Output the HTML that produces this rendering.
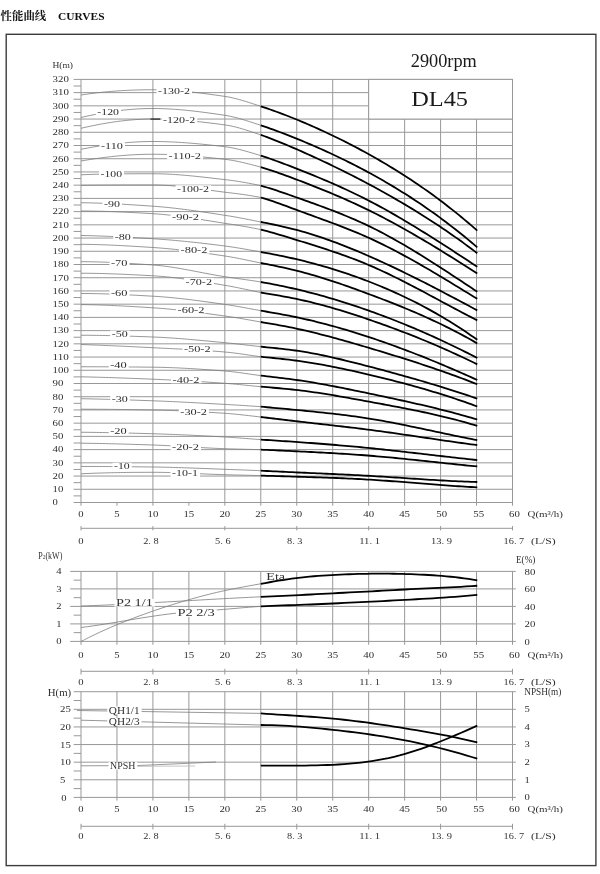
<!DOCTYPE html>
<html lang="zh">
<head>
<meta charset="utf-8">
<title>性能曲线 CURVES - DL45 2900rpm</title>
<style>
html,body{margin:0;padding:0;background:#fff;}
body{width:600px;height:874px;overflow:hidden;font-family:"Liberation Serif", "Noto Serif CJK SC", serif;}
svg text{white-space:pre;}
svg{filter:blur(0.35px);}
</style>
</head>
<body>
<svg width="600" height="874" viewBox="0 0 600 874" font-family='"Liberation Serif", "Noto Serif CJK SC", serif' style="display:block">
<rect x="0" y="0" width="600" height="874" fill="#ffffff"/>
<text x="0.6" y="20" font-size="11.3" font-weight="bold" fill="#111" font-family='"Liberation Serif", "Noto Serif CJK SC", serif' textLength="45.6" lengthAdjust="spacingAndGlyphs">性能曲线</text>
<text x="58" y="19.7" font-size="11.3" font-weight="bold" fill="#111" textLength="46.6" lengthAdjust="spacingAndGlyphs">CURVES</text>
<rect x="6.2" y="34.3" width="589.7" height="831.3" fill="none" stroke="#3c3c3c" stroke-width="1.4"/>
<line x1="73.60" y1="502.50" x2="512.50" y2="502.50" stroke="#989898" stroke-width="1.0"/>
<line x1="73.60" y1="489.28" x2="512.50" y2="489.28" stroke="#989898" stroke-width="1.0"/>
<line x1="73.60" y1="476.06" x2="512.50" y2="476.06" stroke="#989898" stroke-width="1.0"/>
<line x1="73.60" y1="462.83" x2="512.50" y2="462.83" stroke="#989898" stroke-width="1.0"/>
<line x1="73.60" y1="449.61" x2="512.50" y2="449.61" stroke="#989898" stroke-width="1.0"/>
<line x1="73.60" y1="436.39" x2="512.50" y2="436.39" stroke="#989898" stroke-width="1.0"/>
<line x1="73.60" y1="423.17" x2="512.50" y2="423.17" stroke="#989898" stroke-width="1.0"/>
<line x1="73.60" y1="409.95" x2="512.50" y2="409.95" stroke="#989898" stroke-width="1.0"/>
<line x1="73.60" y1="396.72" x2="512.50" y2="396.72" stroke="#989898" stroke-width="1.0"/>
<line x1="73.60" y1="383.50" x2="512.50" y2="383.50" stroke="#989898" stroke-width="1.0"/>
<line x1="73.60" y1="370.28" x2="512.50" y2="370.28" stroke="#989898" stroke-width="1.0"/>
<line x1="73.60" y1="357.06" x2="512.50" y2="357.06" stroke="#989898" stroke-width="1.0"/>
<line x1="73.60" y1="343.84" x2="512.50" y2="343.84" stroke="#989898" stroke-width="1.0"/>
<line x1="73.60" y1="330.61" x2="512.50" y2="330.61" stroke="#989898" stroke-width="1.0"/>
<line x1="73.60" y1="317.39" x2="512.50" y2="317.39" stroke="#989898" stroke-width="1.0"/>
<line x1="73.60" y1="304.17" x2="512.50" y2="304.17" stroke="#989898" stroke-width="1.0"/>
<line x1="73.60" y1="290.95" x2="512.50" y2="290.95" stroke="#989898" stroke-width="1.0"/>
<line x1="73.60" y1="277.73" x2="512.50" y2="277.73" stroke="#989898" stroke-width="1.0"/>
<line x1="73.60" y1="264.50" x2="512.50" y2="264.50" stroke="#989898" stroke-width="1.0"/>
<line x1="73.60" y1="251.28" x2="512.50" y2="251.28" stroke="#989898" stroke-width="1.0"/>
<line x1="73.60" y1="238.06" x2="512.50" y2="238.06" stroke="#989898" stroke-width="1.0"/>
<line x1="73.60" y1="224.84" x2="512.50" y2="224.84" stroke="#989898" stroke-width="1.0"/>
<line x1="73.60" y1="211.62" x2="512.50" y2="211.62" stroke="#989898" stroke-width="1.0"/>
<line x1="73.60" y1="198.39" x2="512.50" y2="198.39" stroke="#989898" stroke-width="1.0"/>
<line x1="73.60" y1="185.17" x2="512.50" y2="185.17" stroke="#989898" stroke-width="1.0"/>
<line x1="73.60" y1="171.95" x2="512.50" y2="171.95" stroke="#989898" stroke-width="1.0"/>
<line x1="73.60" y1="158.73" x2="512.50" y2="158.73" stroke="#989898" stroke-width="1.0"/>
<line x1="73.60" y1="145.51" x2="512.50" y2="145.51" stroke="#989898" stroke-width="1.0"/>
<line x1="73.60" y1="132.28" x2="512.50" y2="132.28" stroke="#989898" stroke-width="1.0"/>
<line x1="73.60" y1="119.06" x2="512.50" y2="119.06" stroke="#989898" stroke-width="1.0"/>
<line x1="73.60" y1="105.84" x2="368.67" y2="105.84" stroke="#989898" stroke-width="1.0"/>
<line x1="73.60" y1="92.62" x2="368.67" y2="92.62" stroke="#989898" stroke-width="1.0"/>
<line x1="73.60" y1="79.40" x2="512.50" y2="79.40" stroke="#989898" stroke-width="1.0"/>
<line x1="73.60" y1="495.89" x2="81.00" y2="495.89" stroke="#989898" stroke-width="1.0"/>
<line x1="73.60" y1="482.67" x2="81.00" y2="482.67" stroke="#989898" stroke-width="1.0"/>
<line x1="73.60" y1="469.44" x2="81.00" y2="469.44" stroke="#989898" stroke-width="1.0"/>
<line x1="73.60" y1="456.22" x2="81.00" y2="456.22" stroke="#989898" stroke-width="1.0"/>
<line x1="73.60" y1="443.00" x2="81.00" y2="443.00" stroke="#989898" stroke-width="1.0"/>
<line x1="73.60" y1="429.78" x2="81.00" y2="429.78" stroke="#989898" stroke-width="1.0"/>
<line x1="73.60" y1="416.56" x2="81.00" y2="416.56" stroke="#989898" stroke-width="1.0"/>
<line x1="73.60" y1="403.33" x2="81.00" y2="403.33" stroke="#989898" stroke-width="1.0"/>
<line x1="73.60" y1="390.11" x2="81.00" y2="390.11" stroke="#989898" stroke-width="1.0"/>
<line x1="73.60" y1="376.89" x2="81.00" y2="376.89" stroke="#989898" stroke-width="1.0"/>
<line x1="73.60" y1="363.67" x2="81.00" y2="363.67" stroke="#989898" stroke-width="1.0"/>
<line x1="73.60" y1="350.45" x2="81.00" y2="350.45" stroke="#989898" stroke-width="1.0"/>
<line x1="73.60" y1="337.23" x2="81.00" y2="337.23" stroke="#989898" stroke-width="1.0"/>
<line x1="73.60" y1="324.00" x2="81.00" y2="324.00" stroke="#989898" stroke-width="1.0"/>
<line x1="73.60" y1="310.78" x2="81.00" y2="310.78" stroke="#989898" stroke-width="1.0"/>
<line x1="73.60" y1="297.56" x2="81.00" y2="297.56" stroke="#989898" stroke-width="1.0"/>
<line x1="73.60" y1="284.34" x2="81.00" y2="284.34" stroke="#989898" stroke-width="1.0"/>
<line x1="73.60" y1="271.12" x2="81.00" y2="271.12" stroke="#989898" stroke-width="1.0"/>
<line x1="73.60" y1="257.89" x2="81.00" y2="257.89" stroke="#989898" stroke-width="1.0"/>
<line x1="73.60" y1="244.67" x2="81.00" y2="244.67" stroke="#989898" stroke-width="1.0"/>
<line x1="73.60" y1="231.45" x2="81.00" y2="231.45" stroke="#989898" stroke-width="1.0"/>
<line x1="73.60" y1="218.23" x2="81.00" y2="218.23" stroke="#989898" stroke-width="1.0"/>
<line x1="73.60" y1="205.00" x2="81.00" y2="205.00" stroke="#989898" stroke-width="1.0"/>
<line x1="73.60" y1="191.78" x2="81.00" y2="191.78" stroke="#989898" stroke-width="1.0"/>
<line x1="73.60" y1="178.56" x2="81.00" y2="178.56" stroke="#989898" stroke-width="1.0"/>
<line x1="73.60" y1="165.34" x2="81.00" y2="165.34" stroke="#989898" stroke-width="1.0"/>
<line x1="73.60" y1="152.12" x2="81.00" y2="152.12" stroke="#989898" stroke-width="1.0"/>
<line x1="73.60" y1="138.89" x2="81.00" y2="138.89" stroke="#989898" stroke-width="1.0"/>
<line x1="73.60" y1="125.67" x2="81.00" y2="125.67" stroke="#989898" stroke-width="1.0"/>
<line x1="73.60" y1="112.45" x2="81.00" y2="112.45" stroke="#989898" stroke-width="1.0"/>
<line x1="73.60" y1="99.23" x2="81.00" y2="99.23" stroke="#989898" stroke-width="1.0"/>
<line x1="73.60" y1="86.01" x2="81.00" y2="86.01" stroke="#989898" stroke-width="1.0"/>
<line x1="81.00" y1="79.40" x2="81.00" y2="505.70" stroke="#989898" stroke-width="1.0"/>
<line x1="152.92" y1="79.40" x2="152.92" y2="505.70" stroke="#989898" stroke-width="1.0"/>
<line x1="224.83" y1="79.40" x2="224.83" y2="505.70" stroke="#989898" stroke-width="1.0"/>
<line x1="260.79" y1="79.40" x2="260.79" y2="505.70" stroke="#989898" stroke-width="1.0"/>
<line x1="296.75" y1="79.40" x2="296.75" y2="505.70" stroke="#989898" stroke-width="1.0"/>
<line x1="332.71" y1="79.40" x2="332.71" y2="505.70" stroke="#989898" stroke-width="1.0"/>
<line x1="368.67" y1="79.40" x2="368.67" y2="505.70" stroke="#989898" stroke-width="1.0"/>
<line x1="512.50" y1="79.40" x2="512.50" y2="505.70" stroke="#989898" stroke-width="1.0"/>
<line x1="404.63" y1="119.06" x2="404.63" y2="505.70" stroke="#989898" stroke-width="1.0"/>
<line x1="440.58" y1="119.06" x2="440.58" y2="505.70" stroke="#989898" stroke-width="1.0"/>
<line x1="476.54" y1="119.06" x2="476.54" y2="505.70" stroke="#989898" stroke-width="1.0"/>
<line x1="116.96" y1="502.50" x2="116.96" y2="505.70" stroke="#989898" stroke-width="1.0"/>
<line x1="188.88" y1="502.50" x2="188.88" y2="505.70" stroke="#989898" stroke-width="1.0"/>
<g>
<text x="52.60" y="505.34" font-size="8.9" text-anchor="start" fill="#2c2c2c" textLength="5.30" lengthAdjust="spacingAndGlyphs">0</text>
<text x="52.60" y="492.12" font-size="8.9" text-anchor="start" fill="#2c2c2c" textLength="10.80" lengthAdjust="spacingAndGlyphs">10</text>
<text x="52.60" y="478.89" font-size="8.9" text-anchor="start" fill="#2c2c2c" textLength="10.80" lengthAdjust="spacingAndGlyphs">20</text>
<text x="52.60" y="465.67" font-size="8.9" text-anchor="start" fill="#2c2c2c" textLength="10.80" lengthAdjust="spacingAndGlyphs">30</text>
<text x="52.60" y="452.45" font-size="8.9" text-anchor="start" fill="#2c2c2c" textLength="10.80" lengthAdjust="spacingAndGlyphs">40</text>
<text x="52.60" y="439.23" font-size="8.9" text-anchor="start" fill="#2c2c2c" textLength="10.80" lengthAdjust="spacingAndGlyphs">50</text>
<text x="52.60" y="426.00" font-size="8.9" text-anchor="start" fill="#2c2c2c" textLength="10.80" lengthAdjust="spacingAndGlyphs">60</text>
<text x="52.60" y="412.78" font-size="8.9" text-anchor="start" fill="#2c2c2c" textLength="10.80" lengthAdjust="spacingAndGlyphs">70</text>
<text x="52.60" y="399.56" font-size="8.9" text-anchor="start" fill="#2c2c2c" textLength="10.80" lengthAdjust="spacingAndGlyphs">80</text>
<text x="52.60" y="386.34" font-size="8.9" text-anchor="start" fill="#2c2c2c" textLength="10.80" lengthAdjust="spacingAndGlyphs">90</text>
<text x="52.60" y="373.12" font-size="8.9" text-anchor="start" fill="#2c2c2c" textLength="16.30" lengthAdjust="spacingAndGlyphs">100</text>
<text x="52.60" y="359.89" font-size="8.9" text-anchor="start" fill="#2c2c2c" textLength="16.30" lengthAdjust="spacingAndGlyphs">110</text>
<text x="52.60" y="346.67" font-size="8.9" text-anchor="start" fill="#2c2c2c" textLength="16.30" lengthAdjust="spacingAndGlyphs">120</text>
<text x="52.60" y="333.45" font-size="8.9" text-anchor="start" fill="#2c2c2c" textLength="16.30" lengthAdjust="spacingAndGlyphs">130</text>
<text x="52.60" y="320.23" font-size="8.9" text-anchor="start" fill="#2c2c2c" textLength="16.30" lengthAdjust="spacingAndGlyphs">140</text>
<text x="52.60" y="307.01" font-size="8.9" text-anchor="start" fill="#2c2c2c" textLength="16.30" lengthAdjust="spacingAndGlyphs">150</text>
<text x="52.60" y="293.78" font-size="8.9" text-anchor="start" fill="#2c2c2c" textLength="16.30" lengthAdjust="spacingAndGlyphs">160</text>
<text x="52.60" y="280.56" font-size="8.9" text-anchor="start" fill="#2c2c2c" textLength="16.30" lengthAdjust="spacingAndGlyphs">170</text>
<text x="52.60" y="267.34" font-size="8.9" text-anchor="start" fill="#2c2c2c" textLength="16.30" lengthAdjust="spacingAndGlyphs">180</text>
<text x="52.60" y="254.12" font-size="8.9" text-anchor="start" fill="#2c2c2c" textLength="16.30" lengthAdjust="spacingAndGlyphs">190</text>
<text x="52.60" y="240.90" font-size="8.9" text-anchor="start" fill="#2c2c2c" textLength="16.30" lengthAdjust="spacingAndGlyphs">200</text>
<text x="52.60" y="227.67" font-size="8.9" text-anchor="start" fill="#2c2c2c" textLength="16.30" lengthAdjust="spacingAndGlyphs">210</text>
<text x="52.60" y="214.45" font-size="8.9" text-anchor="start" fill="#2c2c2c" textLength="16.30" lengthAdjust="spacingAndGlyphs">220</text>
<text x="52.60" y="201.23" font-size="8.9" text-anchor="start" fill="#2c2c2c" textLength="16.30" lengthAdjust="spacingAndGlyphs">230</text>
<text x="52.60" y="188.01" font-size="8.9" text-anchor="start" fill="#2c2c2c" textLength="16.30" lengthAdjust="spacingAndGlyphs">240</text>
<text x="52.60" y="174.79" font-size="8.9" text-anchor="start" fill="#2c2c2c" textLength="16.30" lengthAdjust="spacingAndGlyphs">250</text>
<text x="52.60" y="161.57" font-size="8.9" text-anchor="start" fill="#2c2c2c" textLength="16.30" lengthAdjust="spacingAndGlyphs">260</text>
<text x="52.60" y="148.34" font-size="8.9" text-anchor="start" fill="#2c2c2c" textLength="16.30" lengthAdjust="spacingAndGlyphs">270</text>
<text x="52.60" y="135.12" font-size="8.9" text-anchor="start" fill="#2c2c2c" textLength="16.30" lengthAdjust="spacingAndGlyphs">280</text>
<text x="52.60" y="121.90" font-size="8.9" text-anchor="start" fill="#2c2c2c" textLength="16.30" lengthAdjust="spacingAndGlyphs">290</text>
<text x="52.60" y="108.68" font-size="8.9" text-anchor="start" fill="#2c2c2c" textLength="16.30" lengthAdjust="spacingAndGlyphs">300</text>
<text x="52.60" y="95.45" font-size="8.9" text-anchor="start" fill="#2c2c2c" textLength="16.30" lengthAdjust="spacingAndGlyphs">310</text>
<text x="52.60" y="82.23" font-size="8.9" text-anchor="start" fill="#2c2c2c" textLength="16.30" lengthAdjust="spacingAndGlyphs">320</text>
</g>
<text x="52.40" y="68.47" font-size="9.0" text-anchor="start" fill="#303030" textLength="20.60" lengthAdjust="spacingAndGlyphs">H(m)</text>
<g>
<text x="81.00" y="517.44" font-size="8.9" text-anchor="middle" fill="#2c2c2c" textLength="5.30" lengthAdjust="spacingAndGlyphs">0</text>
<text x="116.96" y="517.44" font-size="8.9" text-anchor="middle" fill="#2c2c2c" textLength="5.30" lengthAdjust="spacingAndGlyphs">5</text>
<text x="152.92" y="517.44" font-size="8.9" text-anchor="middle" fill="#2c2c2c" textLength="10.80" lengthAdjust="spacingAndGlyphs">10</text>
<text x="188.88" y="517.44" font-size="8.9" text-anchor="middle" fill="#2c2c2c" textLength="10.80" lengthAdjust="spacingAndGlyphs">15</text>
<text x="224.83" y="517.44" font-size="8.9" text-anchor="middle" fill="#2c2c2c" textLength="10.80" lengthAdjust="spacingAndGlyphs">20</text>
<text x="260.79" y="517.44" font-size="8.9" text-anchor="middle" fill="#2c2c2c" textLength="10.80" lengthAdjust="spacingAndGlyphs">25</text>
<text x="296.75" y="517.44" font-size="8.9" text-anchor="middle" fill="#2c2c2c" textLength="10.80" lengthAdjust="spacingAndGlyphs">30</text>
<text x="332.71" y="517.44" font-size="8.9" text-anchor="middle" fill="#2c2c2c" textLength="10.80" lengthAdjust="spacingAndGlyphs">35</text>
<text x="368.67" y="517.44" font-size="8.9" text-anchor="middle" fill="#2c2c2c" textLength="10.80" lengthAdjust="spacingAndGlyphs">40</text>
<text x="404.63" y="517.44" font-size="8.9" text-anchor="middle" fill="#2c2c2c" textLength="10.80" lengthAdjust="spacingAndGlyphs">45</text>
<text x="441.69" y="517.44" font-size="8.9" text-anchor="middle" fill="#2c2c2c" textLength="10.80" lengthAdjust="spacingAndGlyphs">50</text>
<text x="478.74" y="517.44" font-size="8.9" text-anchor="middle" fill="#2c2c2c" textLength="10.80" lengthAdjust="spacingAndGlyphs">55</text>
<text x="514.50" y="517.44" font-size="8.9" text-anchor="middle" fill="#2c2c2c" textLength="10.80" lengthAdjust="spacingAndGlyphs">60</text>
</g>
<text x="527.50" y="517.47" font-size="9.0" text-anchor="start" fill="#303030" textLength="35.50" lengthAdjust="spacingAndGlyphs">Q(m³/h)</text>
<line x1="81.00" y1="528.30" x2="512.50" y2="528.30" stroke="#989898" stroke-width="1.0"/>
<line x1="81.00" y1="526.10" x2="81.00" y2="530.40" stroke="#989898" stroke-width="1.0"/>
<text x="81.00" y="544.14" font-size="8.9" text-anchor="middle" fill="#2c2c2c" textLength="5.30" lengthAdjust="spacingAndGlyphs">0</text>
<line x1="152.92" y1="526.10" x2="152.92" y2="530.40" stroke="#989898" stroke-width="1.0"/>
<text x="150.92" y="544.14" font-size="8.9" text-anchor="middle" fill="#303030" textLength="15.50" lengthAdjust="spacingAndGlyphs">2. 8</text>
<line x1="224.83" y1="526.10" x2="224.83" y2="530.40" stroke="#989898" stroke-width="1.0"/>
<text x="222.83" y="544.14" font-size="8.9" text-anchor="middle" fill="#303030" textLength="15.50" lengthAdjust="spacingAndGlyphs">5. 6</text>
<line x1="296.75" y1="526.10" x2="296.75" y2="530.40" stroke="#989898" stroke-width="1.0"/>
<text x="294.75" y="544.14" font-size="8.9" text-anchor="middle" fill="#303030" textLength="15.50" lengthAdjust="spacingAndGlyphs">8. 3</text>
<line x1="368.67" y1="526.10" x2="368.67" y2="530.40" stroke="#989898" stroke-width="1.0"/>
<text x="369.67" y="544.14" font-size="8.9" text-anchor="middle" fill="#303030" textLength="21.00" lengthAdjust="spacingAndGlyphs">11. 1</text>
<line x1="440.58" y1="526.10" x2="440.58" y2="530.40" stroke="#989898" stroke-width="1.0"/>
<text x="441.58" y="544.14" font-size="8.9" text-anchor="middle" fill="#303030" textLength="21.00" lengthAdjust="spacingAndGlyphs">13. 9</text>
<line x1="512.50" y1="526.10" x2="512.50" y2="530.40" stroke="#989898" stroke-width="1.0"/>
<text x="503.60" y="544.14" font-size="8.9" text-anchor="start" fill="#303030" textLength="20.60" lengthAdjust="spacingAndGlyphs">16. 7</text>
<text x="531.00" y="544.17" font-size="9.0" text-anchor="start" fill="#303030" textLength="24.60" lengthAdjust="spacingAndGlyphs">(L/S)</text>
<g id="curves">
<polyline points="81.00,95.00 84.05,94.54 87.09,94.10 90.14,93.68 93.19,93.29 96.24,92.92 99.28,92.57 102.33,92.24 105.38,91.94 108.43,91.66 111.47,91.39 114.52,91.15 117.57,90.93 120.62,90.73 123.66,90.55 126.71,90.39 129.76,90.25 132.80,90.12 135.85,90.02 138.90,89.93 141.95,89.86 144.99,89.81 148.04,89.77 151.09,89.75 154.14,89.75 157.18,89.78 160.23,89.84 163.28,89.94 166.33,90.06 169.37,90.21 172.42,90.39 175.47,90.59 178.51,90.82 181.56,91.07 184.61,91.34 187.66,91.63 190.70,91.95 193.75,92.28 196.80,92.63 199.85,92.99 202.89,93.37 205.94,93.76 208.99,94.16 212.04,94.58 215.08,95.00 218.13,95.43 221.18,95.87 224.22,96.31 227.27,96.79 230.32,97.37 233.37,98.05 236.41,98.80 239.46,99.62 242.51,100.50 245.56,101.42 248.60,102.38 251.65,103.35 254.70,104.34 257.75,105.33 260.79,106.30" fill="none" stroke="#7c7c7c" stroke-width="0.8" stroke-linejoin="round"/>
<polyline points="260.79,106.30 263.93,107.34 267.07,108.40 270.20,109.49 273.34,110.60 276.48,111.74 279.62,112.89 282.75,114.08 285.89,115.28 289.03,116.50 292.16,117.75 295.30,119.01 298.44,120.29 301.58,121.60 304.71,122.92 307.85,124.26 310.99,125.62 314.13,127.00 317.26,128.40 320.40,129.82 323.54,131.26 326.67,132.72 329.81,134.20 332.95,135.70 336.09,137.22 339.22,138.75 342.36,140.31 345.50,141.89 348.64,143.49 351.77,145.12 354.91,146.76 358.05,148.42 361.18,150.10 364.32,151.81 367.46,153.53 370.60,155.28 373.73,157.04 376.87,158.83 380.01,160.64 383.15,162.48 386.28,164.33 389.42,166.21 392.56,168.12 395.69,170.05 398.83,172.01 401.97,173.99 405.11,176.00 408.24,178.03 411.38,180.09 414.52,182.18 417.65,184.30 420.79,186.45 423.93,188.63 427.07,190.83 430.20,193.07 433.34,195.34 436.48,197.64 439.62,199.97 442.75,202.34 445.89,204.73 449.03,207.17 452.16,209.63 455.30,212.13 458.44,214.66 461.58,217.23 464.71,219.84 467.85,222.48 470.99,225.16 474.13,227.88 477.26,230.63" fill="none" stroke="#000" stroke-width="1.8" stroke-linejoin="round" stroke-linecap="butt"/>
<polyline points="81.00,117.50 84.05,116.80 87.09,116.12 90.14,115.46 93.19,114.84 96.24,114.24 99.28,113.66 102.33,113.11 105.38,112.60 108.43,112.11 111.47,111.64 114.52,111.21 117.57,110.81 120.62,110.44 123.66,110.10 126.71,109.79 129.76,109.51 132.80,109.27 135.85,109.05 138.90,108.88 141.95,108.73 144.99,108.62 148.04,108.55 151.09,108.51 154.14,108.50 157.18,108.53 160.23,108.60 163.28,108.69 166.33,108.82 169.37,108.97 172.42,109.15 175.47,109.36 178.51,109.60 181.56,109.85 184.61,110.13 187.66,110.43 190.70,110.75 193.75,111.09 196.80,111.45 199.85,111.82 202.89,112.21 205.94,112.61 208.99,113.02 212.04,113.44 215.08,113.87 218.13,114.31 221.18,114.76 224.22,115.21 227.27,115.70 230.32,116.29 233.37,116.97 236.41,117.73 239.46,118.56 242.51,119.45 245.56,120.38 248.60,121.34 251.65,122.33 254.70,123.32 257.75,124.32 260.79,125.30" fill="none" stroke="#7c7c7c" stroke-width="0.8" stroke-linejoin="round"/>
<polyline points="260.79,125.30 263.93,126.35 267.07,127.43 270.20,128.54 273.34,129.66 276.48,130.81 279.62,131.98 282.75,133.17 285.89,134.38 289.03,135.61 292.16,136.85 295.30,138.11 298.44,139.39 301.58,140.68 304.71,141.99 307.85,143.31 310.99,144.65 314.13,146.00 317.26,147.37 320.40,148.76 323.54,150.17 326.67,151.59 329.81,153.03 332.95,154.49 336.09,155.97 339.22,157.47 342.36,158.98 345.50,160.52 348.64,162.08 351.77,163.65 354.91,165.25 358.05,166.87 361.18,168.50 364.32,170.16 367.46,171.85 370.60,173.55 373.73,175.28 376.87,177.03 380.01,178.80 383.15,180.59 386.28,182.41 389.42,184.26 392.56,186.13 395.69,188.02 398.83,189.94 401.97,191.89 405.11,193.86 408.24,195.86 411.38,197.88 414.52,199.94 417.65,202.02 420.79,204.12 423.93,206.26 427.07,208.43 430.20,210.62 433.34,212.85 436.48,215.10 439.62,217.39 442.75,219.70 445.89,222.05 449.03,224.43 452.16,226.84 455.30,229.28 458.44,231.76 461.58,234.27 464.71,236.81 467.85,239.38 470.99,241.99 474.13,244.64 477.26,247.32" fill="none" stroke="#000" stroke-width="1.8" stroke-linejoin="round" stroke-linecap="butt"/>
<polyline points="81.00,128.30 84.05,127.59 87.09,126.91 90.14,126.25 93.19,125.61 96.24,125.00 99.28,124.41 102.33,123.85 105.38,123.32 108.43,122.81 111.47,122.33 114.52,121.88 117.57,121.46 120.62,121.07 123.66,120.71 126.71,120.38 129.76,120.08 132.80,119.82 135.85,119.60 138.90,119.41 141.95,119.25 144.99,119.13 148.04,119.05 151.09,119.01 154.14,119.00 157.18,119.03 160.23,119.08 163.28,119.16 166.33,119.26 169.37,119.39 172.42,119.55 175.47,119.72 178.51,119.92 181.56,120.14 184.61,120.37 187.66,120.63 190.70,120.90 193.75,121.19 196.80,121.50 199.85,121.82 202.89,122.16 205.94,122.51 208.99,122.87 212.04,123.24 215.08,123.62 218.13,124.01 221.18,124.41 224.22,124.82 227.27,125.27 230.32,125.83 233.37,126.48 236.41,127.23 239.46,128.05 242.51,128.94 245.56,129.88 248.60,130.85 251.65,131.85 254.70,132.87 257.75,133.89 260.79,134.90" fill="none" stroke="#7c7c7c" stroke-width="0.8" stroke-linejoin="round"/>
<polyline points="260.79,134.90 263.93,136.02 267.07,137.17 270.20,138.36 273.34,139.57 276.48,140.80 279.62,142.06 282.75,143.35 285.89,144.65 289.03,145.97 292.16,147.31 295.30,148.67 298.44,150.04 301.58,151.42 304.71,152.81 307.85,154.22 310.99,155.64 314.13,157.07 317.26,158.52 320.40,159.97 323.54,161.45 326.67,162.93 329.81,164.43 332.95,165.94 336.09,167.46 339.22,169.00 342.36,170.55 345.50,172.12 348.64,173.69 351.77,175.29 354.91,176.89 358.05,178.51 361.18,180.15 364.32,181.79 367.46,183.46 370.60,185.13 373.73,186.82 376.87,188.53 380.01,190.25 383.15,191.99 386.28,193.74 389.42,195.51 392.56,197.29 395.69,199.10 398.83,200.92 401.97,202.75 405.11,204.61 408.24,206.49 411.38,208.38 414.52,210.29 417.65,212.23 420.79,214.18 423.93,216.16 427.07,218.15 430.20,220.17 433.34,222.21 436.48,224.27 439.62,226.35 442.75,228.46 445.89,230.59 449.03,232.74 452.16,234.92 455.30,237.12 458.44,239.35 461.58,241.60 464.71,243.88 467.85,246.18 470.99,248.51 474.13,250.87 477.26,253.25" fill="none" stroke="#000" stroke-width="1.8" stroke-linejoin="round" stroke-linecap="butt"/>
<polyline points="81.00,149.30 84.05,148.70 87.09,148.13 90.14,147.57 93.19,147.03 96.24,146.52 99.28,146.02 102.33,145.55 105.38,145.10 108.43,144.67 111.47,144.27 114.52,143.90 117.57,143.54 120.62,143.22 123.66,142.92 126.71,142.65 129.76,142.40 132.80,142.18 135.85,142.00 138.90,141.84 141.95,141.71 144.99,141.61 148.04,141.54 151.09,141.51 154.14,141.50 157.18,141.52 160.23,141.57 163.28,141.64 166.33,141.73 169.37,141.85 172.42,141.98 175.47,142.13 178.51,142.31 181.56,142.50 184.61,142.71 187.66,142.93 190.70,143.18 193.75,143.43 196.80,143.70 199.85,143.98 202.89,144.28 205.94,144.59 208.99,144.91 212.04,145.23 215.08,145.57 218.13,145.92 221.18,146.27 224.22,146.63 227.27,147.02 230.32,147.52 233.37,148.10 236.41,148.76 239.46,149.49 242.51,150.28 245.56,151.11 248.60,151.98 251.65,152.87 254.70,153.78 257.75,154.69 260.79,155.60" fill="none" stroke="#7c7c7c" stroke-width="0.8" stroke-linejoin="round"/>
<polyline points="260.79,155.60 263.93,156.62 267.07,157.67 270.20,158.75 273.34,159.86 276.48,160.98 279.62,162.13 282.75,163.30 285.89,164.49 289.03,165.69 292.16,166.91 295.30,168.13 298.44,169.37 301.58,170.61 304.71,171.86 307.85,173.12 310.99,174.39 314.13,175.68 317.26,176.97 320.40,178.28 323.54,179.60 326.67,180.94 329.81,182.29 332.95,183.66 336.09,185.04 339.22,186.44 342.36,187.86 345.50,189.30 348.64,190.76 351.77,192.24 354.91,193.74 358.05,195.27 361.18,196.81 364.32,198.38 367.46,199.98 370.60,201.60 373.73,203.24 376.87,204.91 380.01,206.61 383.15,208.32 386.28,210.06 389.42,211.82 392.56,213.60 395.69,215.40 398.83,217.22 401.97,219.06 405.11,220.91 408.24,222.79 411.38,224.67 414.52,226.58 417.65,228.50 420.79,230.43 423.93,232.38 427.07,234.33 430.20,236.31 433.34,238.29 436.48,240.28 439.62,242.28 442.75,244.29 445.89,246.31 449.03,248.33 452.16,250.37 455.30,252.40 458.44,254.45 461.58,256.49 464.71,258.55 467.85,260.60 470.99,262.66 474.13,264.71 477.26,266.77" fill="none" stroke="#000" stroke-width="1.8" stroke-linejoin="round" stroke-linecap="butt"/>
<polyline points="81.00,161.00 84.05,160.47 87.09,159.96 90.14,159.48 93.19,159.01 96.24,158.55 99.28,158.12 102.33,157.71 105.38,157.33 108.43,156.96 111.47,156.61 114.52,156.29 117.57,155.99 120.62,155.71 123.66,155.45 126.71,155.22 129.76,155.01 132.80,154.83 135.85,154.67 138.90,154.53 141.95,154.42 144.99,154.34 148.04,154.28 151.09,154.25 154.14,154.25 157.18,154.27 160.23,154.32 163.28,154.39 166.33,154.48 169.37,154.60 172.42,154.73 175.47,154.88 178.51,155.05 181.56,155.24 184.61,155.45 187.66,155.67 190.70,155.91 193.75,156.16 196.80,156.42 199.85,156.70 202.89,156.98 205.94,157.28 208.99,157.59 212.04,157.90 215.08,158.23 218.13,158.56 221.18,158.89 224.22,159.23 227.27,159.60 230.32,160.04 233.37,160.55 236.41,161.13 239.46,161.76 242.51,162.43 245.56,163.15 248.60,163.90 251.65,164.68 254.70,165.48 257.75,166.29 260.79,167.10" fill="none" stroke="#7c7c7c" stroke-width="0.8" stroke-linejoin="round"/>
<polyline points="260.79,167.10 263.93,168.06 267.07,169.05 270.20,170.07 273.34,171.12 276.48,172.19 279.62,173.29 282.75,174.41 285.89,175.55 289.03,176.70 292.16,177.87 295.30,179.05 298.44,180.24 301.58,181.44 304.71,182.64 307.85,183.86 310.99,185.08 314.13,186.32 317.26,187.57 320.40,188.83 323.54,190.10 326.67,191.38 329.81,192.68 332.95,194.00 336.09,195.33 339.22,196.67 342.36,198.03 345.50,199.41 348.64,200.81 351.77,202.23 354.91,203.66 358.05,205.12 361.18,206.59 364.32,208.09 367.46,209.61 370.60,211.15 373.73,212.71 376.87,214.30 380.01,215.91 383.15,217.53 386.28,219.18 389.42,220.85 392.56,222.54 395.69,224.24 398.83,225.97 401.97,227.71 405.11,229.47 408.24,231.25 411.38,233.04 414.52,234.85 417.65,236.67 420.79,238.51 423.93,240.36 427.07,242.22 430.20,244.10 433.34,245.99 436.48,247.89 439.62,249.81 442.75,251.73 445.89,253.67 449.03,255.61 452.16,257.56 455.30,259.53 458.44,261.50 461.58,263.47 464.71,265.46 467.85,267.45 470.99,269.45 474.13,271.45 477.26,273.46" fill="none" stroke="#000" stroke-width="1.8" stroke-linejoin="round" stroke-linecap="butt"/>
<polyline points="81.00,174.80 84.05,174.67 87.09,174.56 90.14,174.45 93.19,174.35 96.24,174.26 99.28,174.19 102.33,174.12 105.38,174.05 108.43,174.00 111.47,173.95 114.52,173.91 117.57,173.87 120.62,173.85 123.66,173.82 126.71,173.80 129.76,173.79 132.80,173.77 135.85,173.76 138.90,173.76 141.95,173.75 144.99,173.75 148.04,173.75 151.09,173.75 154.14,173.75 157.18,173.78 160.23,173.84 163.28,173.93 166.33,174.05 169.37,174.20 172.42,174.37 175.47,174.56 178.51,174.77 181.56,175.01 184.61,175.26 187.66,175.53 190.70,175.82 193.75,176.12 196.80,176.43 199.85,176.75 202.89,177.09 205.94,177.43 208.99,177.77 212.04,178.12 215.08,178.47 218.13,178.83 221.18,179.18 224.22,179.53 227.27,179.89 230.32,180.27 233.37,180.69 236.41,181.13 239.46,181.61 242.51,182.11 245.56,182.64 248.60,183.19 251.65,183.78 254.70,184.39 257.75,185.03 260.79,185.70" fill="none" stroke="#7c7c7c" stroke-width="0.8" stroke-linejoin="round"/>
<polyline points="260.79,185.70 263.93,186.59 267.07,187.51 270.20,188.47 273.34,189.46 276.48,190.48 279.62,191.53 282.75,192.59 285.89,193.68 289.03,194.77 292.16,195.88 295.30,196.99 298.44,198.10 301.58,199.21 304.71,200.33 307.85,201.44 310.99,202.57 314.13,203.70 317.26,204.84 320.40,205.98 323.54,207.14 326.67,208.32 329.81,209.50 332.95,210.71 336.09,211.93 339.22,213.17 342.36,214.43 345.50,215.71 348.64,217.01 351.77,218.34 354.91,219.70 358.05,221.08 361.18,222.50 364.32,223.94 367.46,225.42 370.60,226.93 373.73,228.48 376.87,230.06 380.01,231.67 383.15,233.31 386.28,234.98 389.42,236.69 392.56,238.41 395.69,240.17 398.83,241.95 401.97,243.76 405.11,245.59 408.24,247.44 411.38,249.31 414.52,251.21 417.65,253.12 420.79,255.05 423.93,257.00 427.07,258.97 430.20,260.95 433.34,262.94 436.48,264.95 439.62,266.97 442.75,269.00 445.89,271.05 449.03,273.10 452.16,275.15 455.30,277.22 458.44,279.29 461.58,281.37 464.71,283.44 467.85,285.53 470.99,287.61 474.13,289.69 477.26,291.78" fill="none" stroke="#000" stroke-width="1.8" stroke-linejoin="round" stroke-linecap="butt"/>
<polyline points="81.00,185.30 84.05,185.26 87.09,185.23 90.14,185.20 93.19,185.17 96.24,185.15 99.28,185.12 102.33,185.10 105.38,185.09 108.43,185.07 111.47,185.06 114.52,185.05 117.57,185.04 120.62,185.03 123.66,185.02 126.71,185.01 129.76,185.01 132.80,185.01 135.85,185.00 138.90,185.00 141.95,185.00 144.99,185.00 148.04,185.00 151.09,185.00 154.14,185.00 157.18,185.04 160.23,185.13 163.28,185.25 166.33,185.41 169.37,185.60 172.42,185.83 175.47,186.09 178.51,186.37 181.56,186.68 184.61,187.01 187.66,187.36 190.70,187.73 193.75,188.11 196.80,188.50 199.85,188.90 202.89,189.31 205.94,189.72 208.99,190.13 212.04,190.54 215.08,190.95 218.13,191.35 221.18,191.74 224.22,192.13 227.27,192.50 230.32,192.87 233.37,193.24 236.41,193.62 239.46,194.01 242.51,194.42 245.56,194.86 248.60,195.32 251.65,195.81 254.70,196.33 257.75,196.89 260.79,197.50" fill="none" stroke="#7c7c7c" stroke-width="0.8" stroke-linejoin="round"/>
<polyline points="260.79,197.50 263.93,198.42 267.07,199.40 270.20,200.42 273.34,201.47 276.48,202.56 279.62,203.67 282.75,204.81 285.89,205.96 289.03,207.13 292.16,208.30 295.30,209.46 298.44,210.62 301.58,211.78 304.71,212.92 307.85,214.07 310.99,215.21 314.13,216.35 317.26,217.49 320.40,218.63 323.54,219.78 326.67,220.93 329.81,222.09 332.95,223.26 336.09,224.44 339.22,225.64 342.36,226.85 345.50,228.07 348.64,229.32 351.77,230.58 354.91,231.86 358.05,233.17 361.18,234.51 364.32,235.87 367.46,237.26 370.60,238.68 373.73,240.13 376.87,241.60 380.01,243.11 383.15,244.65 386.28,246.21 389.42,247.80 392.56,249.41 395.69,251.05 398.83,252.70 401.97,254.39 405.11,256.09 408.24,257.81 411.38,259.55 414.52,261.31 417.65,263.09 420.79,264.88 423.93,266.69 427.07,268.51 430.20,270.34 433.34,272.19 436.48,274.05 439.62,275.92 442.75,277.80 445.89,279.69 449.03,281.58 452.16,283.49 455.30,285.40 458.44,287.31 461.58,289.23 464.71,291.15 467.85,293.07 470.99,294.99 474.13,296.92 477.26,298.84" fill="none" stroke="#000" stroke-width="1.8" stroke-linejoin="round" stroke-linecap="butt"/>
<polyline points="81.00,202.75 84.05,202.78 87.09,202.83 90.14,202.89 93.19,202.97 96.24,203.05 99.28,203.15 102.33,203.26 105.38,203.38 108.43,203.51 111.47,203.65 114.52,203.80 117.57,203.96 120.62,204.12 123.66,204.30 126.71,204.48 129.76,204.66 132.80,204.85 135.85,205.05 138.90,205.24 141.95,205.45 144.99,205.65 148.04,205.86 151.09,206.07 154.14,206.29 157.18,206.52 160.23,206.77 163.28,207.04 166.33,207.34 169.37,207.64 172.42,207.97 175.47,208.31 178.51,208.67 181.56,209.05 184.61,209.43 187.66,209.83 190.70,210.24 193.75,210.66 196.80,211.09 199.85,211.52 202.89,211.97 205.94,212.42 208.99,212.88 212.04,213.34 215.08,213.80 218.13,214.27 221.18,214.74 224.22,215.21 227.27,215.68 230.32,216.18 233.37,216.70 236.41,217.24 239.46,217.80 242.51,218.37 245.56,218.96 248.60,219.55 251.65,220.16 254.70,220.77 257.75,221.38 260.79,222.00" fill="none" stroke="#7c7c7c" stroke-width="0.8" stroke-linejoin="round"/>
<polyline points="260.79,222.00 263.93,222.61 267.07,223.22 270.20,223.86 273.34,224.50 276.48,225.17 279.62,225.85 282.75,226.55 285.89,227.28 289.03,228.03 292.16,228.81 295.30,229.62 298.44,230.45 301.58,231.32 304.71,232.22 307.85,233.15 310.99,234.10 314.13,235.09 317.26,236.10 320.40,237.14 323.54,238.20 326.67,239.29 329.81,240.40 332.95,241.54 336.09,242.71 339.22,243.89 342.36,245.10 345.50,246.33 348.64,247.58 351.77,248.85 354.91,250.13 358.05,251.44 361.18,252.77 364.32,254.11 367.46,255.47 370.60,256.85 373.73,258.24 376.87,259.65 380.01,261.07 383.15,262.51 386.28,263.96 389.42,265.42 392.56,266.90 395.69,268.39 398.83,269.89 401.97,271.41 405.11,272.94 408.24,274.47 411.38,276.02 414.52,277.58 417.65,279.15 420.79,280.73 423.93,282.32 427.07,283.92 430.20,285.53 433.34,287.14 436.48,288.76 439.62,290.39 442.75,292.03 445.89,293.68 449.03,295.33 452.16,296.98 455.30,298.64 458.44,300.31 461.58,301.98 464.71,303.65 467.85,305.33 470.99,307.01 474.13,308.70 477.26,310.39" fill="none" stroke="#000" stroke-width="1.8" stroke-linejoin="round" stroke-linecap="butt"/>
<polyline points="81.00,211.00 84.05,211.01 87.09,211.03 90.14,211.06 93.19,211.11 96.24,211.16 99.28,211.23 102.33,211.31 105.38,211.40 108.43,211.50 111.47,211.61 114.52,211.72 117.57,211.85 120.62,211.98 123.66,212.12 126.71,212.27 129.76,212.42 132.80,212.57 135.85,212.73 138.90,212.90 141.95,213.07 144.99,213.24 148.04,213.42 151.09,213.59 154.14,213.77 157.18,213.98 160.23,214.22 163.28,214.49 166.33,214.78 169.37,215.10 172.42,215.45 175.47,215.82 178.51,216.20 181.56,216.61 184.61,217.03 187.66,217.47 190.70,217.92 193.75,218.38 196.80,218.85 199.85,219.32 202.89,219.81 205.94,220.29 208.99,220.78 212.04,221.28 215.08,221.76 218.13,222.25 221.18,222.73 224.22,223.21 227.27,223.68 230.32,224.15 233.37,224.62 236.41,225.11 239.46,225.60 242.51,226.11 245.56,226.63 248.60,227.18 251.65,227.74 254.70,228.33 257.75,228.95 260.79,229.60" fill="none" stroke="#7c7c7c" stroke-width="0.8" stroke-linejoin="round"/>
<polyline points="260.79,229.60 263.93,230.40 267.07,231.23 270.20,232.09 273.34,232.97 276.48,233.87 279.62,234.79 282.75,235.72 285.89,236.67 289.03,237.62 292.16,238.59 295.30,239.55 298.44,240.52 301.58,241.49 304.71,242.46 307.85,243.44 310.99,244.42 314.13,245.41 317.26,246.40 320.40,247.40 323.54,248.42 326.67,249.45 329.81,250.49 332.95,251.54 336.09,252.61 339.22,253.70 342.36,254.80 345.50,255.93 348.64,257.08 351.77,258.25 354.91,259.44 358.05,260.66 361.18,261.91 364.32,263.18 367.46,264.49 370.60,265.82 373.73,267.19 376.87,268.58 380.01,270.01 383.15,271.46 386.28,272.93 389.42,274.43 392.56,275.95 395.69,277.49 398.83,279.05 401.97,280.63 405.11,282.22 408.24,283.83 411.38,285.46 414.52,287.09 417.65,288.74 420.79,290.40 423.93,292.07 427.07,293.74 430.20,295.42 433.34,297.10 436.48,298.79 439.62,300.48 442.75,302.17 445.89,303.85 449.03,305.54 452.16,307.22 455.30,308.90 458.44,310.57 461.58,312.23 464.71,313.88 467.85,315.52 470.99,317.15 474.13,318.76 477.26,320.37" fill="none" stroke="#000" stroke-width="1.8" stroke-linejoin="round" stroke-linecap="butt"/>
<polyline points="81.00,235.50 84.05,235.56 87.09,235.63 90.14,235.70 93.19,235.79 96.24,235.88 99.28,235.98 102.33,236.09 105.38,236.21 108.43,236.34 111.47,236.47 114.52,236.61 117.57,236.75 120.62,236.90 123.66,237.05 126.71,237.21 129.76,237.38 132.80,237.55 135.85,237.72 138.90,237.90 141.95,238.08 144.99,238.26 148.04,238.45 151.09,238.64 154.14,238.83 157.18,239.03 160.23,239.24 163.28,239.47 166.33,239.70 169.37,239.95 172.42,240.21 175.47,240.48 178.51,240.76 181.56,241.04 184.61,241.34 187.66,241.65 190.70,241.96 193.75,242.29 196.80,242.62 199.85,242.96 202.89,243.31 205.94,243.66 208.99,244.02 212.04,244.39 215.08,244.77 218.13,245.15 221.18,245.53 224.22,245.92 227.27,246.32 230.32,246.76 233.37,247.21 236.41,247.69 239.46,248.19 242.51,248.71 245.56,249.24 248.60,249.78 251.65,250.33 254.70,250.88 257.75,251.44 260.79,252.00" fill="none" stroke="#7c7c7c" stroke-width="0.8" stroke-linejoin="round"/>
<polyline points="260.79,252.00 263.93,252.57 267.07,253.14 270.20,253.73 273.34,254.33 276.48,254.95 279.62,255.58 282.75,256.22 285.89,256.88 289.03,257.56 292.16,258.25 295.30,258.96 298.44,259.70 301.58,260.45 304.71,261.22 307.85,262.02 310.99,262.83 314.13,263.66 317.26,264.52 320.40,265.39 323.54,266.29 326.67,267.20 329.81,268.14 332.95,269.10 336.09,270.07 339.22,271.07 342.36,272.10 345.50,273.14 348.64,274.20 351.77,275.29 354.91,276.39 358.05,277.52 361.18,278.67 364.32,279.84 367.46,281.03 370.60,282.25 373.73,283.49 376.87,284.75 380.01,286.03 383.15,287.34 386.28,288.67 389.42,290.03 392.56,291.41 395.69,292.81 398.83,294.25 401.97,295.70 405.11,297.19 408.24,298.70 411.38,300.24 414.52,301.81 417.65,303.41 420.79,305.04 423.93,306.69 427.07,308.38 430.20,310.10 433.34,311.84 436.48,313.62 439.62,315.43 442.75,317.28 445.89,319.15 449.03,321.06 452.16,323.01 455.30,324.98 458.44,326.99 461.58,329.04 464.71,331.12 467.85,333.24 470.99,335.39 474.13,337.59 477.26,339.81" fill="none" stroke="#000" stroke-width="1.8" stroke-linejoin="round" stroke-linecap="butt"/>
<polyline points="81.00,244.30 84.05,244.33 87.09,244.37 90.14,244.43 93.19,244.50 96.24,244.58 99.28,244.67 102.33,244.77 105.38,244.88 108.43,245.00 111.47,245.13 114.52,245.27 117.57,245.42 120.62,245.57 123.66,245.73 126.71,245.90 129.76,246.07 132.80,246.25 135.85,246.43 138.90,246.61 141.95,246.80 144.99,246.99 148.04,247.19 151.09,247.38 154.14,247.58 157.18,247.79 160.23,248.03 163.28,248.28 166.33,248.54 169.37,248.83 172.42,249.12 175.47,249.44 178.51,249.76 181.56,250.10 184.61,250.46 187.66,250.82 190.70,251.20 193.75,251.59 196.80,251.98 199.85,252.39 202.89,252.81 205.94,253.23 208.99,253.66 212.04,254.10 215.08,254.55 218.13,255.00 221.18,255.45 224.22,255.91 227.27,256.38 230.32,256.89 233.37,257.43 236.41,258.00 239.46,258.59 242.51,259.20 245.56,259.83 248.60,260.46 251.65,261.10 254.70,261.74 257.75,262.37 260.79,263.00" fill="none" stroke="#7c7c7c" stroke-width="0.8" stroke-linejoin="round"/>
<polyline points="260.79,263.00 263.93,263.60 267.07,264.21 270.20,264.83 273.34,265.46 276.48,266.11 279.62,266.76 282.75,267.44 285.89,268.13 289.03,268.84 292.16,269.58 295.30,270.34 298.44,271.13 301.58,271.94 304.71,272.78 307.85,273.64 310.99,274.53 314.13,275.44 317.26,276.37 320.40,277.32 323.54,278.29 326.67,279.29 329.81,280.30 332.95,281.33 336.09,282.37 339.22,283.43 342.36,284.51 345.50,285.60 348.64,286.70 351.77,287.82 354.91,288.94 358.05,290.08 361.18,291.23 364.32,292.39 367.46,293.55 370.60,294.72 373.73,295.90 376.87,297.08 380.01,298.28 383.15,299.48 386.28,300.70 389.42,301.92 392.56,303.15 395.69,304.40 398.83,305.66 401.97,306.94 405.11,308.22 408.24,309.53 411.38,310.85 414.52,312.18 417.65,313.53 420.79,314.90 423.93,316.29 427.07,317.70 430.20,319.13 433.34,320.57 436.48,322.04 439.62,323.53 442.75,325.05 445.89,326.59 449.03,328.15 452.16,329.74 455.30,331.35 458.44,332.99 461.58,334.65 464.71,336.35 467.85,338.07 470.99,339.82 474.13,341.61 477.26,343.42" fill="none" stroke="#000" stroke-width="1.8" stroke-linejoin="round" stroke-linecap="butt"/>
<polyline points="81.00,261.70 84.05,261.71 87.09,261.73 90.14,261.77 93.19,261.83 96.24,261.90 99.28,261.98 102.33,262.08 105.38,262.19 108.43,262.31 111.47,262.44 114.52,262.59 117.57,262.74 120.62,262.90 123.66,263.07 126.71,263.25 129.76,263.43 132.80,263.62 135.85,263.82 138.90,264.02 141.95,264.23 144.99,264.44 148.04,264.65 151.09,264.87 154.14,265.09 157.18,265.35 160.23,265.66 163.28,266.01 166.33,266.39 169.37,266.81 172.42,267.26 175.47,267.74 178.51,268.25 181.56,268.78 184.61,269.32 187.66,269.88 190.70,270.46 193.75,271.04 196.80,271.62 199.85,272.21 202.89,272.80 205.94,273.38 208.99,273.96 212.04,274.52 215.08,275.07 218.13,275.61 221.18,276.12 224.22,276.61 227.27,277.07 230.32,277.52 233.37,277.95 236.41,278.38 239.46,278.81 242.51,279.23 245.56,279.66 248.60,280.10 251.65,280.54 254.70,281.01 257.75,281.49 260.79,282.00" fill="none" stroke="#7c7c7c" stroke-width="0.8" stroke-linejoin="round"/>
<polyline points="260.79,282.00 263.93,282.55 267.07,283.12 270.20,283.70 273.34,284.30 276.48,284.92 279.62,285.55 282.75,286.20 285.89,286.86 289.03,287.55 292.16,288.25 295.30,288.96 298.44,289.70 301.58,290.45 304.71,291.22 307.85,292.01 310.99,292.82 314.13,293.64 317.26,294.48 320.40,295.34 323.54,296.21 326.67,297.11 329.81,298.01 332.95,298.94 336.09,299.88 339.22,300.84 342.36,301.81 345.50,302.80 348.64,303.81 351.77,304.83 354.91,305.87 358.05,306.92 361.18,307.99 364.32,309.07 367.46,310.17 370.60,311.29 373.73,312.42 376.87,313.56 380.01,314.72 383.15,315.89 386.28,317.08 389.42,318.28 392.56,319.50 395.69,320.73 398.83,321.98 401.97,323.25 405.11,324.52 408.24,325.82 411.38,327.12 414.52,328.44 417.65,329.78 420.79,331.13 423.93,332.50 427.07,333.88 430.20,335.28 433.34,336.69 436.48,338.11 439.62,339.55 442.75,341.01 445.89,342.48 449.03,343.96 452.16,345.46 455.30,346.97 458.44,348.50 461.58,350.04 464.71,351.60 467.85,353.17 470.99,354.76 474.13,356.36 477.26,357.97" fill="none" stroke="#000" stroke-width="1.8" stroke-linejoin="round" stroke-linecap="butt"/>
<polyline points="81.00,273.25 84.05,273.26 87.09,273.28 90.14,273.31 93.19,273.35 96.24,273.40 99.28,273.47 102.33,273.54 105.38,273.62 108.43,273.72 111.47,273.82 114.52,273.93 117.57,274.05 120.62,274.17 123.66,274.30 126.71,274.44 129.76,274.58 132.80,274.73 135.85,274.88 138.90,275.04 141.95,275.20 144.99,275.36 148.04,275.53 151.09,275.70 154.14,275.87 157.18,276.07 160.23,276.30 163.28,276.55 166.33,276.83 169.37,277.14 172.42,277.47 175.47,277.82 178.51,278.19 181.56,278.58 184.61,278.99 187.66,279.41 190.70,279.85 193.75,280.30 196.80,280.77 199.85,281.24 202.89,281.72 205.94,282.21 208.99,282.70 212.04,283.20 215.08,283.70 218.13,284.20 221.18,284.70 224.22,285.20 227.27,285.71 230.32,286.26 233.37,286.84 236.41,287.45 239.46,288.07 242.51,288.71 245.56,289.36 248.60,290.01 251.65,290.66 254.70,291.29 257.75,291.91 260.79,292.50" fill="none" stroke="#7c7c7c" stroke-width="0.8" stroke-linejoin="round"/>
<polyline points="260.79,292.50 263.93,293.04 267.07,293.57 270.20,294.10 273.34,294.64 276.48,295.18 279.62,295.73 282.75,296.29 285.89,296.87 289.03,297.46 292.16,298.07 295.30,298.70 298.44,299.36 301.58,300.04 304.71,300.75 307.85,301.48 310.99,302.23 314.13,303.01 317.26,303.81 320.40,304.63 323.54,305.47 326.67,306.34 329.81,307.22 332.95,308.12 336.09,309.04 339.22,309.98 342.36,310.93 345.50,311.90 348.64,312.88 351.77,313.89 354.91,314.90 358.05,315.93 361.18,316.97 364.32,318.02 367.46,319.09 370.60,320.16 373.73,321.25 376.87,322.35 380.01,323.45 383.15,324.57 386.28,325.71 389.42,326.85 392.56,328.00 395.69,329.17 398.83,330.35 401.97,331.54 405.11,332.75 408.24,333.96 411.38,335.19 414.52,336.44 417.65,337.69 420.79,338.96 423.93,340.25 427.07,341.54 430.20,342.86 433.34,344.18 436.48,345.52 439.62,346.88 442.75,348.25 445.89,349.63 449.03,351.03 452.16,352.45 455.30,353.88 458.44,355.33 461.58,356.79 464.71,358.27 467.85,359.77 470.99,361.28 474.13,362.81 477.26,364.36" fill="none" stroke="#000" stroke-width="1.8" stroke-linejoin="round" stroke-linecap="butt"/>
<polyline points="81.00,293.50 84.05,293.51 87.09,293.53 90.14,293.56 93.19,293.61 96.24,293.67 99.28,293.74 102.33,293.82 105.38,293.91 108.43,294.01 111.47,294.12 114.52,294.24 117.57,294.37 120.62,294.50 123.66,294.64 126.71,294.79 129.76,294.94 132.80,295.10 135.85,295.26 138.90,295.42 141.95,295.59 144.99,295.75 148.04,295.93 151.09,296.10 154.14,296.27 157.18,296.46 160.23,296.68 163.28,296.91 166.33,297.16 169.37,297.43 172.42,297.72 175.47,298.03 178.51,298.35 181.56,298.68 184.61,299.03 187.66,299.39 190.70,299.76 193.75,300.14 196.80,300.53 199.85,300.93 202.89,301.34 205.94,301.75 208.99,302.17 212.04,302.60 215.08,303.02 218.13,303.45 221.18,303.88 224.22,304.31 227.27,304.76 230.32,305.23 233.37,305.72 236.41,306.24 239.46,306.77 242.51,307.32 245.56,307.88 248.60,308.45 251.65,309.02 254.70,309.59 257.75,310.15 260.79,310.70" fill="none" stroke="#7c7c7c" stroke-width="0.8" stroke-linejoin="round"/>
<polyline points="260.79,310.70 263.93,311.23 267.07,311.76 270.20,312.30 273.34,312.85 276.48,313.41 279.62,313.97 282.75,314.55 285.89,315.14 289.03,315.74 292.16,316.36 295.30,317.00 298.44,317.66 301.58,318.33 304.71,319.03 307.85,319.75 310.99,320.48 314.13,321.23 317.26,322.01 320.40,322.80 323.54,323.60 326.67,324.43 329.81,325.27 332.95,326.13 336.09,327.00 339.22,327.90 342.36,328.80 345.50,329.73 348.64,330.66 351.77,331.62 354.91,332.59 358.05,333.57 361.18,334.57 364.32,335.58 367.46,336.60 370.60,337.64 373.73,338.69 376.87,339.75 380.01,340.83 383.15,341.92 386.28,343.02 389.42,344.14 392.56,345.26 395.69,346.40 398.83,347.56 401.97,348.72 405.11,349.89 408.24,351.08 411.38,352.28 414.52,353.49 417.65,354.72 420.79,355.95 423.93,357.20 427.07,358.46 430.20,359.72 433.34,361.00 436.48,362.29 439.62,363.60 442.75,364.91 445.89,366.23 449.03,367.56 452.16,368.91 455.30,370.26 458.44,371.63 461.58,373.00 464.71,374.39 467.85,375.78 470.99,377.19 474.13,378.60 477.26,380.03" fill="none" stroke="#000" stroke-width="1.8" stroke-linejoin="round" stroke-linecap="butt"/>
<polyline points="81.00,304.60 84.05,304.64 87.09,304.68 90.14,304.74 93.19,304.82 96.24,304.90 99.28,304.99 102.33,305.10 105.38,305.21 108.43,305.33 111.47,305.46 114.52,305.60 117.57,305.74 120.62,305.89 123.66,306.05 126.71,306.22 129.76,306.39 132.80,306.56 135.85,306.74 138.90,306.92 141.95,307.11 144.99,307.30 148.04,307.49 151.09,307.68 154.14,307.88 157.18,308.09 160.23,308.32 163.28,308.57 166.33,308.84 169.37,309.12 172.42,309.41 175.47,309.72 178.51,310.04 181.56,310.38 184.61,310.73 187.66,311.09 190.70,311.45 193.75,311.83 196.80,312.22 199.85,312.61 202.89,313.01 205.94,313.41 208.99,313.82 212.04,314.24 215.08,314.65 218.13,315.07 221.18,315.49 224.22,315.92 227.27,316.34 230.32,316.80 233.37,317.27 236.41,317.76 239.46,318.26 242.51,318.78 245.56,319.31 248.60,319.84 251.65,320.38 254.70,320.92 257.75,321.46 260.79,322.00" fill="none" stroke="#7c7c7c" stroke-width="0.8" stroke-linejoin="round"/>
<polyline points="260.79,322.00 263.93,322.53 267.07,323.07 270.20,323.61 273.34,324.16 276.48,324.73 279.62,325.30 282.75,325.89 285.89,326.49 289.03,327.11 292.16,327.74 295.30,328.39 298.44,329.06 301.58,329.75 304.71,330.46 307.85,331.19 310.99,331.93 314.13,332.69 317.26,333.47 320.40,334.26 323.54,335.07 326.67,335.88 329.81,336.72 332.95,337.56 336.09,338.42 339.22,339.28 342.36,340.16 345.50,341.04 348.64,341.94 351.77,342.84 354.91,343.75 358.05,344.66 361.18,345.58 364.32,346.51 367.46,347.44 370.60,348.37 373.73,349.31 376.87,350.25 380.01,351.20 383.15,352.15 386.28,353.10 389.42,354.06 392.56,355.03 395.69,356.00 398.83,356.97 401.97,357.96 405.11,358.95 408.24,359.94 411.38,360.95 414.52,361.96 417.65,362.98 420.79,364.01 423.93,365.04 427.07,366.09 430.20,367.14 433.34,368.20 436.48,369.28 439.62,370.36 442.75,371.46 445.89,372.56 449.03,373.68 452.16,374.81 455.30,375.95 458.44,377.10 461.58,378.26 464.71,379.44 467.85,380.63 470.99,381.83 474.13,383.05 477.26,384.28" fill="none" stroke="#000" stroke-width="1.8" stroke-linejoin="round" stroke-linecap="butt"/>
<polyline points="81.00,335.25 84.05,335.25 87.09,335.27 90.14,335.29 93.19,335.32 96.24,335.36 99.28,335.40 102.33,335.45 105.38,335.51 108.43,335.58 111.47,335.65 114.52,335.73 117.57,335.81 120.62,335.89 123.66,335.98 126.71,336.08 129.76,336.18 132.80,336.28 135.85,336.38 138.90,336.49 141.95,336.60 144.99,336.71 148.04,336.82 151.09,336.93 154.14,337.05 157.18,337.18 160.23,337.32 163.28,337.48 166.33,337.66 169.37,337.85 172.42,338.05 175.47,338.27 178.51,338.49 181.56,338.73 184.61,338.98 187.66,339.23 190.70,339.50 193.75,339.76 196.80,340.04 199.85,340.32 202.89,340.61 205.94,340.89 208.99,341.18 212.04,341.48 215.08,341.77 218.13,342.06 221.18,342.35 224.22,342.64 227.27,342.94 230.32,343.24 233.37,343.57 236.41,343.90 239.46,344.24 242.51,344.59 245.56,344.94 248.60,345.30 251.65,345.65 254.70,346.01 257.75,346.36 260.79,346.70" fill="none" stroke="#7c7c7c" stroke-width="0.8" stroke-linejoin="round"/>
<polyline points="260.79,346.70 263.93,347.00 267.07,347.29 270.20,347.60 273.34,347.91 276.48,348.23 279.62,348.56 282.75,348.91 285.89,349.27 289.03,349.66 292.16,350.06 295.30,350.49 298.44,350.95 301.58,351.43 304.71,351.94 307.85,352.48 310.99,353.04 314.13,353.62 317.26,354.23 320.40,354.86 323.54,355.50 326.67,356.17 329.81,356.85 332.95,357.55 336.09,358.27 339.22,359.00 342.36,359.75 345.50,360.51 348.64,361.28 351.77,362.06 354.91,362.85 358.05,363.65 361.18,364.45 364.32,365.27 367.46,366.08 370.60,366.91 373.73,367.73 376.87,368.56 380.01,369.40 383.15,370.24 386.28,371.08 389.42,371.94 392.56,372.79 395.69,373.65 398.83,374.52 401.97,375.39 405.11,376.27 408.24,377.16 411.38,378.05 414.52,378.95 417.65,379.85 420.79,380.76 423.93,381.68 427.07,382.61 430.20,383.55 433.34,384.49 436.48,385.44 439.62,386.40 442.75,387.37 445.89,388.35 449.03,389.33 452.16,390.33 455.30,391.33 458.44,392.35 461.58,393.37 464.71,394.41 467.85,395.45 470.99,396.51 474.13,397.57 477.26,398.65" fill="none" stroke="#000" stroke-width="1.8" stroke-linejoin="round" stroke-linecap="butt"/>
<polyline points="81.00,344.50 84.05,344.61 87.09,344.73 90.14,344.85 93.19,344.97 96.24,345.09 99.28,345.21 102.33,345.34 105.38,345.47 108.43,345.60 111.47,345.73 114.52,345.86 117.57,346.00 120.62,346.14 123.66,346.28 126.71,346.42 129.76,346.56 132.80,346.71 135.85,346.85 138.90,347.00 141.95,347.15 144.99,347.30 148.04,347.45 151.09,347.61 154.14,347.76 157.18,347.92 160.23,348.07 163.28,348.22 166.33,348.37 169.37,348.52 172.42,348.68 175.47,348.83 178.51,348.99 181.56,349.14 184.61,349.31 187.66,349.47 190.70,349.64 193.75,349.82 196.80,350.00 199.85,350.18 202.89,350.37 205.94,350.57 208.99,350.78 212.04,351.00 215.08,351.22 218.13,351.45 221.18,351.69 224.22,351.95 227.27,352.22 230.32,352.55 233.37,352.91 236.41,353.30 239.46,353.72 242.51,354.15 245.56,354.59 248.60,355.04 251.65,355.48 254.70,355.91 257.75,356.32 260.79,356.70" fill="none" stroke="#7c7c7c" stroke-width="0.8" stroke-linejoin="round"/>
<polyline points="260.79,356.70 263.93,357.03 267.07,357.35 270.20,357.67 273.34,358.00 276.48,358.33 279.62,358.66 282.75,359.01 285.89,359.36 289.03,359.73 292.16,360.11 295.30,360.51 298.44,360.93 301.58,361.37 304.71,361.83 307.85,362.31 310.99,362.81 314.13,363.33 317.26,363.86 320.40,364.41 323.54,364.98 326.67,365.56 329.81,366.16 332.95,366.78 336.09,367.41 339.22,368.05 342.36,368.70 345.50,369.37 348.64,370.04 351.77,370.73 354.91,371.43 358.05,372.14 361.18,372.86 364.32,373.58 367.46,374.32 370.60,375.06 373.73,375.80 376.87,376.56 380.01,377.32 383.15,378.09 386.28,378.87 389.42,379.66 392.56,380.46 395.69,381.27 398.83,382.08 401.97,382.91 405.11,383.74 408.24,384.59 411.38,385.45 414.52,386.32 417.65,387.20 420.79,388.09 423.93,388.99 427.07,389.91 430.20,390.84 433.34,391.78 436.48,392.73 439.62,393.70 442.75,394.68 445.89,395.67 449.03,396.68 452.16,397.71 455.30,398.75 458.44,399.80 461.58,400.87 464.71,401.96 467.85,403.06 470.99,404.18 474.13,405.31 477.26,406.47" fill="none" stroke="#000" stroke-width="1.8" stroke-linejoin="round" stroke-linecap="butt"/>
<polyline points="81.00,366.75 84.05,366.75 87.09,366.75 90.14,366.76 93.19,366.77 96.24,366.77 99.28,366.78 102.33,366.80 105.38,366.81 108.43,366.82 111.47,366.84 114.52,366.86 117.57,366.88 120.62,366.90 123.66,366.92 126.71,366.95 129.76,366.97 132.80,367.00 135.85,367.02 138.90,367.05 141.95,367.08 144.99,367.11 148.04,367.15 151.09,367.18 154.14,367.21 157.18,367.26 160.23,367.32 163.28,367.40 166.33,367.49 169.37,367.59 172.42,367.70 175.47,367.82 178.51,367.96 181.56,368.11 184.61,368.26 187.66,368.43 190.70,368.60 193.75,368.78 196.80,368.97 199.85,369.17 202.89,369.38 205.94,369.59 208.99,369.80 212.04,370.02 215.08,370.25 218.13,370.48 221.18,370.72 224.22,370.95 227.27,371.21 230.32,371.51 233.37,371.85 236.41,372.22 239.46,372.63 242.51,373.05 245.56,373.48 248.60,373.92 251.65,374.36 254.70,374.79 257.75,375.21 260.79,375.60" fill="none" stroke="#7c7c7c" stroke-width="0.8" stroke-linejoin="round"/>
<polyline points="260.79,375.60 263.93,375.96 267.07,376.31 270.20,376.67 273.34,377.03 276.48,377.40 279.62,377.77 282.75,378.15 285.89,378.54 289.03,378.95 292.16,379.36 295.30,379.79 298.44,380.24 301.58,380.71 304.71,381.19 307.85,381.69 310.99,382.20 314.13,382.73 317.26,383.27 320.40,383.82 323.54,384.39 326.67,384.96 329.81,385.55 332.95,386.15 336.09,386.75 339.22,387.37 342.36,387.99 345.50,388.62 348.64,389.25 351.77,389.89 354.91,390.54 358.05,391.19 361.18,391.84 364.32,392.49 367.46,393.15 370.60,393.80 373.73,394.46 376.87,395.12 380.01,395.78 383.15,396.45 386.28,397.11 389.42,397.78 392.56,398.45 395.69,399.13 398.83,399.81 401.97,400.50 405.11,401.19 408.24,401.88 411.38,402.59 414.52,403.30 417.65,404.01 420.79,404.74 423.93,405.47 427.07,406.21 430.20,406.96 433.34,407.71 436.48,408.48 439.62,409.26 442.75,410.05 445.89,410.84 449.03,411.65 452.16,412.47 455.30,413.31 458.44,414.15 461.58,415.01 464.71,415.88 467.85,416.77 470.99,417.67 474.13,418.58 477.26,419.51" fill="none" stroke="#000" stroke-width="1.8" stroke-linejoin="round" stroke-linecap="butt"/>
<polyline points="81.00,376.80 84.05,376.87 87.09,376.94 90.14,377.01 93.19,377.09 96.24,377.17 99.28,377.26 102.33,377.35 105.38,377.44 108.43,377.53 111.47,377.63 114.52,377.73 117.57,377.84 120.62,377.94 123.66,378.05 126.71,378.16 129.76,378.27 132.80,378.39 135.85,378.51 138.90,378.63 141.95,378.75 144.99,378.87 148.04,379.00 151.09,379.12 154.14,379.25 157.18,379.38 160.23,379.52 163.28,379.66 166.33,379.80 169.37,379.95 172.42,380.10 175.47,380.25 178.51,380.41 181.56,380.57 184.61,380.73 187.66,380.90 190.70,381.08 193.75,381.25 196.80,381.43 199.85,381.62 202.89,381.81 205.94,382.00 208.99,382.20 212.04,382.40 215.08,382.61 218.13,382.82 221.18,383.04 224.22,383.26 227.27,383.49 230.32,383.74 233.37,384.00 236.41,384.28 239.46,384.58 242.51,384.88 245.56,385.19 248.60,385.50 251.65,385.81 254.70,386.11 257.75,386.41 260.79,386.70" fill="none" stroke="#7c7c7c" stroke-width="0.8" stroke-linejoin="round"/>
<polyline points="260.79,386.70 263.93,386.95 267.07,387.21 270.20,387.47 273.34,387.73 276.48,388.00 279.62,388.27 282.75,388.56 285.89,388.86 289.03,389.17 292.16,389.49 295.30,389.84 298.44,390.20 301.58,390.58 304.71,390.98 307.85,391.39 310.99,391.82 314.13,392.27 317.26,392.73 320.40,393.21 323.54,393.69 326.67,394.19 329.81,394.71 332.95,395.23 336.09,395.76 339.22,396.30 342.36,396.84 345.50,397.39 348.64,397.95 351.77,398.52 354.91,399.08 358.05,399.66 361.18,400.23 364.32,400.80 367.46,401.38 370.60,401.95 373.73,402.53 376.87,403.10 380.01,403.68 383.15,404.26 386.28,404.84 389.42,405.42 392.56,406.01 395.69,406.60 398.83,407.20 401.97,407.80 405.11,408.41 408.24,409.03 411.38,409.66 414.52,410.29 417.65,410.93 420.79,411.59 423.93,412.25 427.07,412.93 430.20,413.62 433.34,414.32 436.48,415.04 439.62,415.77 442.75,416.52 445.89,417.28 449.03,418.06 452.16,418.85 455.30,419.67 458.44,420.50 461.58,421.35 464.71,422.22 467.85,423.11 470.99,424.03 474.13,424.96 477.26,425.92" fill="none" stroke="#000" stroke-width="1.8" stroke-linejoin="round" stroke-linecap="butt"/>
<polyline points="81.00,398.70 84.05,398.76 87.09,398.82 90.14,398.89 93.19,398.96 96.24,399.03 99.28,399.10 102.33,399.18 105.38,399.26 108.43,399.34 111.47,399.43 114.52,399.52 117.57,399.61 120.62,399.70 123.66,399.79 126.71,399.89 129.76,399.99 132.80,400.09 135.85,400.19 138.90,400.30 141.95,400.40 144.99,400.51 148.04,400.62 151.09,400.73 154.14,400.85 157.18,400.96 160.23,401.08 163.28,401.21 166.33,401.34 169.37,401.47 172.42,401.61 175.47,401.76 178.51,401.90 181.56,402.05 184.61,402.20 187.66,402.36 190.70,402.51 193.75,402.67 196.80,402.84 199.85,403.00 202.89,403.17 205.94,403.34 208.99,403.50 212.04,403.68 215.08,403.85 218.13,404.02 221.18,404.19 224.22,404.37 227.27,404.54 230.32,404.72 233.37,404.89 236.41,405.07 239.46,405.26 242.51,405.45 245.56,405.64 248.60,405.84 251.65,406.04 254.70,406.26 257.75,406.47 260.79,406.70" fill="none" stroke="#7c7c7c" stroke-width="0.8" stroke-linejoin="round"/>
<polyline points="260.79,406.70 263.93,406.96 267.07,407.23 270.20,407.51 273.34,407.79 276.48,408.07 279.62,408.36 282.75,408.66 285.89,408.95 289.03,409.25 292.16,409.56 295.30,409.86 298.44,410.16 301.58,410.47 304.71,410.77 307.85,411.08 310.99,411.39 314.13,411.71 317.26,412.03 320.40,412.35 323.54,412.68 326.67,413.02 329.81,413.36 332.95,413.72 336.09,414.08 339.22,414.45 342.36,414.83 345.50,415.22 348.64,415.62 351.77,416.03 354.91,416.46 358.05,416.90 361.18,417.35 364.32,417.82 367.46,418.31 370.60,418.81 373.73,419.33 376.87,419.86 380.01,420.41 383.15,420.97 386.28,421.55 389.42,422.13 392.56,422.73 395.69,423.34 398.83,423.96 401.97,424.58 405.11,425.22 408.24,425.86 411.38,426.51 414.52,427.16 417.65,427.82 420.79,428.48 423.93,429.15 427.07,429.82 430.20,430.49 433.34,431.16 436.48,431.83 439.62,432.49 442.75,433.16 445.89,433.82 449.03,434.48 452.16,435.14 455.30,435.79 458.44,436.44 461.58,437.07 464.71,437.71 467.85,438.33 470.99,438.94 474.13,439.54 477.26,440.13" fill="none" stroke="#000" stroke-width="1.8" stroke-linejoin="round" stroke-linecap="butt"/>
<polyline points="81.00,409.20 84.05,409.20 87.09,409.21 90.14,409.22 93.19,409.23 96.24,409.25 99.28,409.27 102.33,409.29 105.38,409.32 108.43,409.34 111.47,409.38 114.52,409.41 117.57,409.45 120.62,409.49 123.66,409.53 126.71,409.57 129.76,409.61 132.80,409.66 135.85,409.71 138.90,409.76 141.95,409.81 144.99,409.86 148.04,409.91 151.09,409.97 154.14,410.02 157.18,410.09 160.23,410.16 163.28,410.24 166.33,410.33 169.37,410.42 172.42,410.53 175.47,410.64 178.51,410.76 181.56,410.88 184.61,411.02 187.66,411.16 190.70,411.30 193.75,411.46 196.80,411.61 199.85,411.78 202.89,411.95 205.94,412.12 208.99,412.30 212.04,412.48 215.08,412.67 218.13,412.86 221.18,413.06 224.22,413.26 227.27,413.47 230.32,413.71 233.37,413.98 236.41,414.28 239.46,414.59 242.51,414.92 245.56,415.26 248.60,415.60 251.65,415.96 254.70,416.31 257.75,416.66 260.79,417.00" fill="none" stroke="#7c7c7c" stroke-width="0.8" stroke-linejoin="round"/>
<polyline points="260.79,417.00 263.93,417.37 267.07,417.74 270.20,418.11 273.34,418.49 276.48,418.87 279.62,419.25 282.75,419.63 285.89,420.00 289.03,420.38 292.16,420.76 295.30,421.13 298.44,421.50 301.58,421.86 304.71,422.23 307.85,422.59 310.99,422.94 314.13,423.30 317.26,423.65 320.40,424.01 323.54,424.36 326.67,424.71 329.81,425.07 332.95,425.42 336.09,425.78 339.22,426.14 342.36,426.50 345.50,426.87 348.64,427.24 351.77,427.61 354.91,427.98 358.05,428.37 361.18,428.75 364.32,429.15 367.46,429.54 370.60,429.95 373.73,430.36 376.87,430.78 380.01,431.21 383.15,431.64 386.28,432.07 389.42,432.51 392.56,432.96 395.69,433.40 398.83,433.86 401.97,434.31 405.11,434.77 408.24,435.23 411.38,435.69 414.52,436.15 417.65,436.62 420.79,437.08 423.93,437.54 427.07,438.01 430.20,438.47 433.34,438.94 436.48,439.40 439.62,439.86 442.75,440.32 445.89,440.77 449.03,441.22 452.16,441.67 455.30,442.12 458.44,442.56 461.58,442.99 464.71,443.43 467.85,443.85 470.99,444.27 474.13,444.69 477.26,445.09" fill="none" stroke="#000" stroke-width="1.8" stroke-linejoin="round" stroke-linecap="butt"/>
<polyline points="81.00,432.25 84.05,432.28 87.09,432.31 90.14,432.35 93.19,432.39 96.24,432.43 99.28,432.48 102.33,432.53 105.38,432.59 108.43,432.64 111.47,432.71 114.52,432.77 117.57,432.83 120.62,432.90 123.66,432.97 126.71,433.05 129.76,433.12 132.80,433.20 135.85,433.28 138.90,433.36 141.95,433.44 144.99,433.53 148.04,433.61 151.09,433.70 154.14,433.79 157.18,433.88 160.23,433.97 163.28,434.08 166.33,434.18 169.37,434.30 172.42,434.41 175.47,434.53 178.51,434.66 181.56,434.79 184.61,434.92 187.66,435.06 190.70,435.20 193.75,435.35 196.80,435.50 199.85,435.65 202.89,435.81 205.94,435.96 208.99,436.12 212.04,436.29 215.08,436.45 218.13,436.62 221.18,436.79 224.22,436.97 227.27,437.14 230.32,437.34 233.37,437.55 236.41,437.76 239.46,437.99 242.51,438.22 245.56,438.46 248.60,438.69 251.65,438.93 254.70,439.16 257.75,439.38 260.79,439.60" fill="none" stroke="#7c7c7c" stroke-width="0.8" stroke-linejoin="round"/>
<polyline points="260.79,439.60 263.93,439.81 267.07,440.02 270.20,440.22 273.34,440.43 276.48,440.64 279.62,440.84 282.75,441.05 285.89,441.26 289.03,441.47 292.16,441.68 295.30,441.90 298.44,442.12 301.58,442.34 304.71,442.56 307.85,442.79 310.99,443.02 314.13,443.26 317.26,443.50 320.40,443.74 323.54,443.99 326.67,444.24 329.81,444.49 332.95,444.75 336.09,445.01 339.22,445.28 342.36,445.55 345.50,445.82 348.64,446.10 351.77,446.39 354.91,446.67 358.05,446.97 361.18,447.27 364.32,447.57 367.46,447.88 370.60,448.19 373.73,448.51 376.87,448.84 380.01,449.16 383.15,449.50 386.28,449.83 389.42,450.17 392.56,450.52 395.69,450.86 398.83,451.21 401.97,451.56 405.11,451.92 408.24,452.27 411.38,452.63 414.52,452.99 417.65,453.35 420.79,453.71 423.93,454.08 427.07,454.44 430.20,454.80 433.34,455.16 436.48,455.53 439.62,455.89 442.75,456.25 445.89,456.61 449.03,456.97 452.16,457.32 455.30,457.68 458.44,458.03 461.58,458.38 464.71,458.72 467.85,459.07 470.99,459.41 474.13,459.74 477.26,460.08" fill="none" stroke="#000" stroke-width="1.8" stroke-linejoin="round" stroke-linecap="butt"/>
<polyline points="81.00,443.20 84.05,443.24 87.09,443.28 90.14,443.33 93.19,443.38 96.24,443.43 99.28,443.49 102.33,443.56 105.38,443.62 108.43,443.69 111.47,443.76 114.52,443.84 117.57,443.92 120.62,444.00 123.66,444.09 126.71,444.17 129.76,444.26 132.80,444.35 135.85,444.45 138.90,444.54 141.95,444.64 144.99,444.74 148.04,444.84 151.09,444.94 154.14,445.04 157.18,445.16 160.23,445.28 163.28,445.42 166.33,445.57 169.37,445.72 172.42,445.88 175.47,446.05 178.51,446.23 181.56,446.40 184.61,446.58 187.66,446.77 190.70,446.95 193.75,447.13 196.80,447.31 199.85,447.49 202.89,447.66 205.94,447.83 208.99,448.00 212.04,448.15 215.08,448.30 218.13,448.44 221.18,448.56 224.22,448.68 227.27,448.78 230.32,448.88 233.37,448.96 236.41,449.04 239.46,449.12 242.51,449.20 245.56,449.27 248.60,449.35 251.65,449.43 254.70,449.51 257.75,449.60 260.79,449.70" fill="none" stroke="#7c7c7c" stroke-width="0.8" stroke-linejoin="round"/>
<polyline points="260.79,449.70 263.93,449.82 267.07,449.95 270.20,450.08 273.34,450.22 276.48,450.35 279.62,450.49 282.75,450.64 285.89,450.78 289.03,450.93 292.16,451.08 295.30,451.23 298.44,451.38 301.58,451.53 304.71,451.69 307.85,451.84 310.99,452.00 314.13,452.16 317.26,452.32 320.40,452.48 323.54,452.65 326.67,452.82 329.81,453.00 332.95,453.18 336.09,453.36 339.22,453.55 342.36,453.74 345.50,453.94 348.64,454.14 351.77,454.35 354.91,454.57 358.05,454.79 361.18,455.02 364.32,455.26 367.46,455.50 370.60,455.76 373.73,456.02 376.87,456.28 380.01,456.56 383.15,456.84 386.28,457.13 389.42,457.42 392.56,457.72 395.69,458.02 398.83,458.33 401.97,458.64 405.11,458.96 408.24,459.28 411.38,459.60 414.52,459.93 417.65,460.26 420.79,460.59 423.93,460.92 427.07,461.26 430.20,461.59 433.34,461.93 436.48,462.26 439.62,462.60 442.75,462.93 445.89,463.27 449.03,463.60 452.16,463.93 455.30,464.26 458.44,464.58 461.58,464.91 464.71,465.23 467.85,465.54 470.99,465.86 474.13,466.17 477.26,466.47" fill="none" stroke="#000" stroke-width="1.8" stroke-linejoin="round" stroke-linecap="butt"/>
<polyline points="81.00,466.45 84.05,466.45 87.09,466.46 90.14,466.46 93.19,466.47 96.24,466.48 99.28,466.50 102.33,466.51 105.38,466.53 108.43,466.55 111.47,466.57 114.52,466.59 117.57,466.62 120.62,466.65 123.66,466.67 126.71,466.70 129.76,466.73 132.80,466.77 135.85,466.80 138.90,466.83 141.95,466.87 144.99,466.90 148.04,466.94 151.09,466.98 154.14,467.02 157.18,467.06 160.23,467.12 163.28,467.18 166.33,467.25 169.37,467.32 172.42,467.41 175.47,467.50 178.51,467.59 181.56,467.69 184.61,467.79 187.66,467.90 190.70,468.01 193.75,468.12 196.80,468.24 199.85,468.35 202.89,468.47 205.94,468.59 208.99,468.71 212.04,468.82 215.08,468.94 218.13,469.06 221.18,469.17 224.22,469.28 227.27,469.39 230.32,469.50 233.37,469.61 236.41,469.72 239.46,469.84 242.51,469.96 245.56,470.07 248.60,470.20 251.65,470.32 254.70,470.44 257.75,470.57 260.79,470.70" fill="none" stroke="#7c7c7c" stroke-width="0.8" stroke-linejoin="round"/>
<polyline points="260.79,470.70 263.93,470.84 267.07,470.99 270.20,471.14 273.34,471.29 276.48,471.44 279.62,471.59 282.75,471.74 285.89,471.89 289.03,472.04 292.16,472.19 295.30,472.33 298.44,472.48 301.58,472.62 304.71,472.76 307.85,472.90 310.99,473.04 314.13,473.18 317.26,473.31 320.40,473.45 323.54,473.59 326.67,473.73 329.81,473.87 332.95,474.01 336.09,474.15 339.22,474.29 342.36,474.44 345.50,474.59 348.64,474.74 351.77,474.90 354.91,475.05 358.05,475.22 361.18,475.38 364.32,475.55 367.46,475.73 370.60,475.91 373.73,476.10 376.87,476.29 380.01,476.48 383.15,476.68 386.28,476.88 389.42,477.09 392.56,477.29 395.69,477.50 398.83,477.71 401.97,477.92 405.11,478.13 408.24,478.34 411.38,478.55 414.52,478.76 417.65,478.97 420.79,479.18 423.93,479.38 427.07,479.58 430.20,479.78 433.34,479.97 436.48,480.16 439.62,480.34 442.75,480.52 445.89,480.70 449.03,480.86 452.16,481.03 455.30,481.18 458.44,481.33 461.58,481.46 464.71,481.59 467.85,481.71 470.99,481.83 474.13,481.93 477.26,482.02" fill="none" stroke="#000" stroke-width="1.8" stroke-linejoin="round" stroke-linecap="butt"/>
<polyline points="81.00,473.80 84.05,473.66 87.09,473.52 90.14,473.40 93.19,473.28 96.24,473.17 99.28,473.07 102.33,472.98 105.38,472.89 108.43,472.81 111.47,472.73 114.52,472.67 117.57,472.61 120.62,472.55 123.66,472.50 126.71,472.46 129.76,472.42 132.80,472.39 135.85,472.37 138.90,472.34 141.95,472.33 144.99,472.31 148.04,472.30 151.09,472.30 154.14,472.30 157.18,472.32 160.23,472.35 163.28,472.40 166.33,472.46 169.37,472.54 172.42,472.63 175.47,472.72 178.51,472.83 181.56,472.95 184.61,473.07 187.66,473.19 190.70,473.33 193.75,473.46 196.80,473.60 199.85,473.73 202.89,473.87 205.94,474.00 208.99,474.13 212.04,474.26 215.08,474.37 218.13,474.49 221.18,474.59 224.22,474.68 227.27,474.77 230.32,474.85 233.37,474.93 236.41,475.00 239.46,475.07 242.51,475.15 245.56,475.22 248.60,475.29 251.65,475.36 254.70,475.44 257.75,475.52 260.79,475.60" fill="none" stroke="#7c7c7c" stroke-width="0.8" stroke-linejoin="round"/>
<polyline points="260.79,475.60 263.93,475.69 267.07,475.78 270.20,475.88 273.34,475.97 276.48,476.07 279.62,476.17 282.75,476.26 285.89,476.36 289.03,476.46 292.16,476.56 295.30,476.65 298.44,476.75 301.58,476.85 304.71,476.95 307.85,477.05 310.99,477.15 314.13,477.25 317.26,477.35 320.40,477.45 323.54,477.56 326.67,477.67 329.81,477.78 332.95,477.90 336.09,478.02 339.22,478.15 342.36,478.27 345.50,478.41 348.64,478.55 351.77,478.70 354.91,478.85 358.05,479.01 361.18,479.17 364.32,479.35 367.46,479.53 370.60,479.72 373.73,479.91 376.87,480.12 380.01,480.33 383.15,480.55 386.28,480.77 389.42,481.00 392.56,481.23 395.69,481.47 398.83,481.71 401.97,481.95 405.11,482.20 408.24,482.45 411.38,482.70 414.52,482.95 417.65,483.20 420.79,483.45 423.93,483.70 427.07,483.95 430.20,484.20 433.34,484.45 436.48,484.69 439.62,484.93 442.75,485.16 445.89,485.39 449.03,485.62 452.16,485.84 455.30,486.05 458.44,486.26 461.58,486.46 464.71,486.65 467.85,486.84 470.99,487.01 474.13,487.18 477.26,487.33" fill="none" stroke="#000" stroke-width="1.8" stroke-linejoin="round" stroke-linecap="butt"/>
</g>
<line x1="150.50" y1="119.10" x2="160.00" y2="119.10" stroke="#333" stroke-width="1.3"/>
<g id="curve-labels">
<rect x="156.50" y="87.30" width="35.50" height="7.4" fill="#fff"/>
<text x="158.00" y="93.97" font-size="9.0" text-anchor="start" fill="#2c2c2c" textLength="32.00" lengthAdjust="spacingAndGlyphs">-130-2</text>
<rect x="95.80" y="108.60" width="25.20" height="7.4" fill="#fff"/>
<text x="97.30" y="115.27" font-size="9.0" text-anchor="start" fill="#2c2c2c" textLength="21.70" lengthAdjust="spacingAndGlyphs">-120</text>
<rect x="161.50" y="116.70" width="35.70" height="7.4" fill="#fff"/>
<text x="163.00" y="123.37" font-size="9.0" text-anchor="start" fill="#2c2c2c" textLength="32.20" lengthAdjust="spacingAndGlyphs">-120-2</text>
<rect x="99.50" y="142.00" width="25.50" height="7.4" fill="#fff"/>
<text x="101.00" y="148.67" font-size="9.0" text-anchor="start" fill="#2c2c2c" textLength="22.00" lengthAdjust="spacingAndGlyphs">-110</text>
<rect x="167.10" y="152.30" width="35.90" height="7.4" fill="#fff"/>
<text x="168.60" y="158.97" font-size="9.0" text-anchor="start" fill="#2c2c2c" textLength="32.40" lengthAdjust="spacingAndGlyphs">-110-2</text>
<rect x="99.00" y="170.80" width="25.00" height="7.4" fill="#fff"/>
<text x="100.50" y="177.47" font-size="9.0" text-anchor="start" fill="#2c2c2c" textLength="21.50" lengthAdjust="spacingAndGlyphs">-100</text>
<rect x="175.50" y="185.30" width="35.50" height="7.4" fill="#fff"/>
<text x="177.00" y="191.97" font-size="9.0" text-anchor="start" fill="#2c2c2c" textLength="32.00" lengthAdjust="spacingAndGlyphs">-100-2</text>
<rect x="102.50" y="200.10" width="19.50" height="7.4" fill="#fff"/>
<text x="104.00" y="206.77" font-size="9.0" text-anchor="start" fill="#2c2c2c" textLength="16.00" lengthAdjust="spacingAndGlyphs">-90</text>
<rect x="170.50" y="213.30" width="30.50" height="7.4" fill="#fff"/>
<text x="172.00" y="219.97" font-size="9.0" text-anchor="start" fill="#2c2c2c" textLength="27.00" lengthAdjust="spacingAndGlyphs">-90-2</text>
<rect x="113.25" y="233.10" width="19.55" height="7.4" fill="#fff"/>
<text x="114.75" y="239.77" font-size="9.0" text-anchor="start" fill="#2c2c2c" textLength="16.05" lengthAdjust="spacingAndGlyphs">-80</text>
<rect x="179.10" y="246.30" width="30.30" height="7.4" fill="#fff"/>
<text x="180.60" y="252.97" font-size="9.0" text-anchor="start" fill="#2c2c2c" textLength="26.80" lengthAdjust="spacingAndGlyphs">-80-2</text>
<rect x="109.50" y="259.50" width="20.00" height="7.4" fill="#fff"/>
<text x="111.00" y="266.17" font-size="9.0" text-anchor="start" fill="#2c2c2c" textLength="16.50" lengthAdjust="spacingAndGlyphs">-70</text>
<rect x="184.10" y="277.90" width="29.90" height="7.4" fill="#fff"/>
<text x="185.60" y="284.57" font-size="9.0" text-anchor="start" fill="#2c2c2c" textLength="26.40" lengthAdjust="spacingAndGlyphs">-70-2</text>
<rect x="109.50" y="289.05" width="20.00" height="7.4" fill="#fff"/>
<text x="111.00" y="295.72" font-size="9.0" text-anchor="start" fill="#2c2c2c" textLength="16.50" lengthAdjust="spacingAndGlyphs">-60</text>
<rect x="176.10" y="305.90" width="30.30" height="7.4" fill="#fff"/>
<text x="177.60" y="312.57" font-size="9.0" text-anchor="start" fill="#2c2c2c" textLength="26.80" lengthAdjust="spacingAndGlyphs">-60-2</text>
<rect x="110.25" y="330.50" width="19.55" height="7.4" fill="#fff"/>
<text x="111.75" y="337.17" font-size="9.0" text-anchor="start" fill="#2c2c2c" textLength="16.05" lengthAdjust="spacingAndGlyphs">-50</text>
<rect x="182.50" y="345.30" width="30.10" height="7.4" fill="#fff"/>
<text x="184.00" y="351.97" font-size="9.0" text-anchor="start" fill="#2c2c2c" textLength="26.60" lengthAdjust="spacingAndGlyphs">-50-2</text>
<rect x="108.75" y="361.55" width="20.00" height="7.4" fill="#fff"/>
<text x="110.25" y="368.22" font-size="9.0" text-anchor="start" fill="#2c2c2c" textLength="16.50" lengthAdjust="spacingAndGlyphs">-40</text>
<rect x="171.10" y="375.90" width="30.30" height="7.4" fill="#fff"/>
<text x="172.60" y="382.57" font-size="9.0" text-anchor="start" fill="#2c2c2c" textLength="26.80" lengthAdjust="spacingAndGlyphs">-40-2</text>
<rect x="110.25" y="395.00" width="19.55" height="7.4" fill="#fff"/>
<text x="111.75" y="401.67" font-size="9.0" text-anchor="start" fill="#2c2c2c" textLength="16.05" lengthAdjust="spacingAndGlyphs">-30</text>
<rect x="178.80" y="408.70" width="30.20" height="7.4" fill="#fff"/>
<text x="180.30" y="415.37" font-size="9.0" text-anchor="start" fill="#2c2c2c" textLength="26.70" lengthAdjust="spacingAndGlyphs">-30-2</text>
<rect x="108.75" y="427.80" width="20.00" height="7.4" fill="#fff"/>
<text x="110.25" y="434.47" font-size="9.0" text-anchor="start" fill="#2c2c2c" textLength="16.50" lengthAdjust="spacingAndGlyphs">-20</text>
<rect x="170.50" y="442.90" width="30.50" height="7.4" fill="#fff"/>
<text x="172.00" y="449.57" font-size="9.0" text-anchor="start" fill="#2c2c2c" textLength="27.00" lengthAdjust="spacingAndGlyphs">-20-2</text>
<rect x="112.50" y="462.75" width="19.25" height="7.4" fill="#fff"/>
<text x="114.00" y="469.42" font-size="9.0" text-anchor="start" fill="#2c2c2c" textLength="15.75" lengthAdjust="spacingAndGlyphs">-10</text>
<rect x="170.50" y="469.70" width="29.50" height="7.4" fill="#fff"/>
<text x="172.00" y="476.37" font-size="9.0" text-anchor="start" fill="#2c2c2c" textLength="26.00" lengthAdjust="spacingAndGlyphs">-10-1</text>
</g>
<rect x="368.67" y="79.40" width="143.83" height="39.67" fill="#fff" stroke="#989898" stroke-width="1.0"/>
<text x="410.80" y="67.14" font-size="18.6" text-anchor="start" fill="#1a1a1a" textLength="66.00" lengthAdjust="spacingAndGlyphs">2900rpm</text>
<text x="411.20" y="105.93" font-size="21.0" text-anchor="start" fill="#1a1a1a" textLength="56.80" lengthAdjust="spacingAndGlyphs">DL45</text>
<line x1="70.20" y1="641.40" x2="515.80" y2="641.40" stroke="#989898" stroke-width="1.0"/>
<line x1="70.20" y1="623.90" x2="515.80" y2="623.90" stroke="#989898" stroke-width="1.0"/>
<line x1="70.20" y1="606.40" x2="515.80" y2="606.40" stroke="#989898" stroke-width="1.0"/>
<line x1="70.20" y1="588.90" x2="515.80" y2="588.90" stroke="#989898" stroke-width="1.0"/>
<line x1="70.20" y1="571.40" x2="515.80" y2="571.40" stroke="#989898" stroke-width="1.0"/>
<line x1="73.70" y1="632.65" x2="81.00" y2="632.65" stroke="#989898" stroke-width="1.0"/>
<line x1="73.70" y1="615.15" x2="81.00" y2="615.15" stroke="#989898" stroke-width="1.0"/>
<line x1="73.70" y1="597.65" x2="81.00" y2="597.65" stroke="#989898" stroke-width="1.0"/>
<line x1="73.70" y1="580.15" x2="81.00" y2="580.15" stroke="#989898" stroke-width="1.0"/>
<line x1="81.00" y1="571.40" x2="81.00" y2="644.80" stroke="#989898" stroke-width="1.0"/>
<line x1="116.96" y1="571.40" x2="116.96" y2="644.80" stroke="#989898" stroke-width="1.0"/>
<line x1="152.92" y1="571.40" x2="152.92" y2="644.80" stroke="#989898" stroke-width="1.0"/>
<line x1="188.88" y1="571.40" x2="188.88" y2="644.80" stroke="#989898" stroke-width="1.0"/>
<line x1="224.83" y1="571.40" x2="224.83" y2="644.80" stroke="#989898" stroke-width="1.0"/>
<line x1="260.79" y1="571.40" x2="260.79" y2="644.80" stroke="#989898" stroke-width="1.0"/>
<line x1="296.75" y1="571.40" x2="296.75" y2="644.80" stroke="#989898" stroke-width="1.0"/>
<line x1="332.71" y1="571.40" x2="332.71" y2="644.80" stroke="#989898" stroke-width="1.0"/>
<line x1="368.67" y1="571.40" x2="368.67" y2="644.80" stroke="#989898" stroke-width="1.0"/>
<line x1="404.63" y1="571.40" x2="404.63" y2="644.80" stroke="#989898" stroke-width="1.0"/>
<line x1="440.58" y1="571.40" x2="440.58" y2="644.80" stroke="#989898" stroke-width="1.0"/>
<line x1="476.54" y1="571.40" x2="476.54" y2="644.80" stroke="#989898" stroke-width="1.0"/>
<line x1="512.50" y1="571.40" x2="512.50" y2="644.80" stroke="#989898" stroke-width="1.0"/>
<g>
<text x="56.30" y="644.04" font-size="8.9" text-anchor="start" fill="#2c2c2c" textLength="5.30" lengthAdjust="spacingAndGlyphs">0</text>
<text x="56.30" y="626.54" font-size="8.9" text-anchor="start" fill="#2c2c2c" textLength="5.30" lengthAdjust="spacingAndGlyphs">1</text>
<text x="56.30" y="609.04" font-size="8.9" text-anchor="start" fill="#2c2c2c" textLength="5.30" lengthAdjust="spacingAndGlyphs">2</text>
<text x="56.30" y="591.54" font-size="8.9" text-anchor="start" fill="#2c2c2c" textLength="5.30" lengthAdjust="spacingAndGlyphs">3</text>
<text x="56.30" y="574.04" font-size="8.9" text-anchor="start" fill="#2c2c2c" textLength="5.30" lengthAdjust="spacingAndGlyphs">4</text>
<text x="524.60" y="644.64" font-size="8.9" text-anchor="start" fill="#2c2c2c" textLength="5.30" lengthAdjust="spacingAndGlyphs">0</text>
<text x="524.60" y="627.14" font-size="8.9" text-anchor="start" fill="#2c2c2c" textLength="10.80" lengthAdjust="spacingAndGlyphs">20</text>
<text x="524.60" y="609.64" font-size="8.9" text-anchor="start" fill="#2c2c2c" textLength="10.80" lengthAdjust="spacingAndGlyphs">40</text>
<text x="524.60" y="592.14" font-size="8.9" text-anchor="start" fill="#2c2c2c" textLength="10.80" lengthAdjust="spacingAndGlyphs">60</text>
<text x="524.60" y="574.64" font-size="8.9" text-anchor="start" fill="#2c2c2c" textLength="10.80" lengthAdjust="spacingAndGlyphs">80</text>
<text x="81.00" y="657.54" font-size="8.9" text-anchor="middle" fill="#2c2c2c" textLength="5.30" lengthAdjust="spacingAndGlyphs">0</text>
<text x="116.96" y="657.54" font-size="8.9" text-anchor="middle" fill="#2c2c2c" textLength="5.30" lengthAdjust="spacingAndGlyphs">5</text>
<text x="152.92" y="657.54" font-size="8.9" text-anchor="middle" fill="#2c2c2c" textLength="10.80" lengthAdjust="spacingAndGlyphs">10</text>
<text x="188.88" y="657.54" font-size="8.9" text-anchor="middle" fill="#2c2c2c" textLength="10.80" lengthAdjust="spacingAndGlyphs">15</text>
<text x="224.83" y="657.54" font-size="8.9" text-anchor="middle" fill="#2c2c2c" textLength="10.80" lengthAdjust="spacingAndGlyphs">20</text>
<text x="260.79" y="657.54" font-size="8.9" text-anchor="middle" fill="#2c2c2c" textLength="10.80" lengthAdjust="spacingAndGlyphs">25</text>
<text x="296.75" y="657.54" font-size="8.9" text-anchor="middle" fill="#2c2c2c" textLength="10.80" lengthAdjust="spacingAndGlyphs">30</text>
<text x="332.71" y="657.54" font-size="8.9" text-anchor="middle" fill="#2c2c2c" textLength="10.80" lengthAdjust="spacingAndGlyphs">35</text>
<text x="368.67" y="657.54" font-size="8.9" text-anchor="middle" fill="#2c2c2c" textLength="10.80" lengthAdjust="spacingAndGlyphs">40</text>
<text x="404.63" y="657.54" font-size="8.9" text-anchor="middle" fill="#2c2c2c" textLength="10.80" lengthAdjust="spacingAndGlyphs">45</text>
<text x="441.69" y="657.54" font-size="8.9" text-anchor="middle" fill="#2c2c2c" textLength="10.80" lengthAdjust="spacingAndGlyphs">50</text>
<text x="478.74" y="657.54" font-size="8.9" text-anchor="middle" fill="#2c2c2c" textLength="10.80" lengthAdjust="spacingAndGlyphs">55</text>
<text x="514.50" y="657.54" font-size="8.9" text-anchor="middle" fill="#2c2c2c" textLength="10.80" lengthAdjust="spacingAndGlyphs">60</text>
</g>
<text x="527.50" y="657.57" font-size="9.0" text-anchor="start" fill="#303030" textLength="35.50" lengthAdjust="spacingAndGlyphs">Q(m³/h)</text>
<text x="38.2" y="558.5" font-size="9.5" fill="#303030" textLength="24.2" lengthAdjust="spacingAndGlyphs">P<tspan font-size="6.5" dy="0.6">2</tspan><tspan dy="-0.6">(kW)</tspan></text>
<text x="516.00" y="562.84" font-size="9.5" text-anchor="start" fill="#303030" textLength="19.40" lengthAdjust="spacingAndGlyphs">E(%)</text>
<line x1="81.00" y1="671.30" x2="512.50" y2="671.30" stroke="#989898" stroke-width="1.0"/>
<line x1="81.00" y1="668.80" x2="81.00" y2="674.50" stroke="#989898" stroke-width="1.0"/>
<text x="81.00" y="684.74" font-size="8.9" text-anchor="middle" fill="#2c2c2c" textLength="5.30" lengthAdjust="spacingAndGlyphs">0</text>
<line x1="152.92" y1="668.80" x2="152.92" y2="674.50" stroke="#989898" stroke-width="1.0"/>
<text x="150.92" y="684.74" font-size="8.9" text-anchor="middle" fill="#303030" textLength="15.50" lengthAdjust="spacingAndGlyphs">2. 8</text>
<line x1="224.83" y1="668.80" x2="224.83" y2="674.50" stroke="#989898" stroke-width="1.0"/>
<text x="222.83" y="684.74" font-size="8.9" text-anchor="middle" fill="#303030" textLength="15.50" lengthAdjust="spacingAndGlyphs">5. 6</text>
<line x1="296.75" y1="668.80" x2="296.75" y2="674.50" stroke="#989898" stroke-width="1.0"/>
<text x="294.75" y="684.74" font-size="8.9" text-anchor="middle" fill="#303030" textLength="15.50" lengthAdjust="spacingAndGlyphs">8. 3</text>
<line x1="368.67" y1="668.80" x2="368.67" y2="674.50" stroke="#989898" stroke-width="1.0"/>
<text x="369.67" y="684.74" font-size="8.9" text-anchor="middle" fill="#303030" textLength="21.00" lengthAdjust="spacingAndGlyphs">11. 1</text>
<line x1="440.58" y1="668.80" x2="440.58" y2="674.50" stroke="#989898" stroke-width="1.0"/>
<text x="441.58" y="684.74" font-size="8.9" text-anchor="middle" fill="#303030" textLength="21.00" lengthAdjust="spacingAndGlyphs">13. 9</text>
<line x1="512.50" y1="668.80" x2="512.50" y2="674.50" stroke="#989898" stroke-width="1.0"/>
<text x="503.60" y="684.74" font-size="8.9" text-anchor="start" fill="#303030" textLength="20.60" lengthAdjust="spacingAndGlyphs">16. 7</text>
<text x="531.00" y="684.77" font-size="9.0" text-anchor="start" fill="#303030" textLength="24.60" lengthAdjust="spacingAndGlyphs">(L/S)</text>
<polyline points="81.00,641.50 84.67,639.60 88.34,637.75 92.01,635.94 95.68,634.18 99.35,632.45 103.02,630.77 106.68,629.12 110.35,627.51 114.02,625.93 117.69,624.39 121.36,622.89 125.03,621.41 128.70,619.97 132.37,618.55 136.04,617.17 139.71,615.80 143.38,614.47 147.05,613.15 150.72,611.86 154.38,610.59 158.05,609.35 161.72,608.12 165.39,606.91 169.06,605.72 172.73,604.56 176.40,603.42 180.07,602.30 183.74,601.20 187.41,600.12 191.08,599.07 194.75,598.04 198.42,597.04 202.08,596.06 205.75,595.11 209.42,594.18 213.09,593.28 216.76,592.41 220.43,591.57 224.10,590.76 227.77,589.98 231.44,589.22 235.11,588.49 238.78,587.79 242.45,587.10 246.12,586.42 249.78,585.76 253.45,585.10 257.12,584.45 260.79,583.80" fill="none" stroke="#7c7c7c" stroke-width="0.8" stroke-linejoin="round"/>
<polyline points="260.79,583.80 265.21,583.02 269.63,582.24 274.05,581.47 278.46,580.72 282.88,580.00 287.30,579.31 291.72,578.67 296.13,578.08 300.55,577.54 304.97,577.06 309.39,576.64 313.81,576.25 318.22,575.91 322.64,575.60 327.06,575.32 331.48,575.07 335.89,574.83 340.31,574.62 344.73,574.43 349.15,574.25 353.57,574.10 357.98,573.97 362.40,573.86 366.82,573.78 371.24,573.72 375.65,573.68 380.07,573.67 384.49,573.68 388.91,573.71 393.33,573.77 397.74,573.84 402.16,573.94 406.58,574.05 411.00,574.19 415.41,574.34 419.83,574.53 424.25,574.74 428.67,574.98 433.09,575.25 437.50,575.56 441.92,575.91 446.34,576.30 450.76,576.74 455.17,577.22 459.59,577.75 464.01,578.33 468.43,578.97 472.84,579.67 477.26,580.43" fill="none" stroke="#000" stroke-width="1.8" stroke-linejoin="round"/>
<polyline points="81.00,606.00 87.20,605.79 93.40,605.56 99.60,605.32 105.80,605.06 112.00,604.78 118.20,604.49 124.40,604.20 130.60,603.89 136.80,603.57 143.00,603.24 149.20,602.90 155.40,602.56 161.60,602.22 167.80,601.86 174.00,601.51 180.20,601.15 186.40,600.79 192.60,600.44 198.80,600.08 204.99,599.72 211.19,599.37 217.39,599.02 223.59,598.68 229.79,598.35 235.99,598.02 242.19,597.70 248.39,597.39 254.59,597.09 260.79,596.80" fill="none" stroke="#7c7c7c" stroke-width="0.8" stroke-linejoin="round"/>
<polyline points="260.79,596.80 266.34,596.55 271.89,596.31 277.44,596.07 282.99,595.83 288.55,595.58 294.10,595.33 299.65,595.06 305.20,594.77 310.75,594.48 316.30,594.18 321.85,593.88 327.40,593.58 332.95,593.29 338.50,593.01 344.05,592.73 349.60,592.46 355.15,592.19 360.70,591.91 366.25,591.63 371.80,591.33 377.35,591.02 382.90,590.71 388.45,590.39 394.00,590.08 399.56,589.77 405.11,589.48 410.66,589.19 416.21,588.93 421.76,588.67 427.31,588.41 432.86,588.16 438.41,587.90 443.96,587.64 449.51,587.37 455.06,587.09 460.61,586.79 466.16,586.47 471.71,586.12 477.26,585.75" fill="none" stroke="#000" stroke-width="1.8" stroke-linejoin="round"/>
<polyline points="81.00,627.50 87.20,626.71 93.40,625.84 99.60,624.91 105.80,623.94 112.00,622.93 118.20,621.89 124.40,620.84 130.60,619.80 136.80,618.76 143.00,617.74 149.20,616.76 155.40,615.83 161.60,614.96 167.80,614.15 174.00,613.43 180.20,612.80 186.40,612.23 192.60,611.71 198.80,611.23 204.99,610.78 211.19,610.33 217.39,609.88 223.59,609.40 229.79,608.89 235.99,608.35 242.19,607.81 248.39,607.30 254.59,606.82 260.79,606.40" fill="none" stroke="#7c7c7c" stroke-width="0.8" stroke-linejoin="round"/>
<polyline points="260.79,606.40 266.34,606.09 271.89,605.84 277.44,605.62 282.99,605.43 288.55,605.26 294.10,605.09 299.65,604.90 305.20,604.70 310.75,604.48 316.30,604.24 321.85,604.00 327.40,603.75 332.95,603.49 338.50,603.23 344.05,602.96 349.60,602.69 355.15,602.42 360.70,602.15 366.25,601.87 371.80,601.59 377.35,601.31 382.90,601.03 388.45,600.75 394.00,600.46 399.56,600.17 405.11,599.87 410.66,599.57 416.21,599.27 421.76,598.95 427.31,598.63 432.86,598.29 438.41,597.94 443.96,597.57 449.51,597.19 455.06,596.79 460.61,596.36 466.16,595.91 471.71,595.44 477.26,594.93" fill="none" stroke="#000" stroke-width="1.8" stroke-linejoin="round"/>
<rect x="114.50" y="598.90" width="40.30" height="7.7" fill="#fff"/>
<text x="116.00" y="606.17" font-size="10.5" text-anchor="start" fill="#303030" textLength="36.80" lengthAdjust="spacingAndGlyphs">P2 1/1</text>
<rect x="175.90" y="609.20" width="40.90" height="7.7" fill="#fff"/>
<text x="177.40" y="616.47" font-size="10.5" text-anchor="start" fill="#303030" textLength="37.40" lengthAdjust="spacingAndGlyphs">P2 2/3</text>
<text x="266.30" y="579.76" font-size="10.5" text-anchor="start" fill="#303030" textLength="18.80" lengthAdjust="spacingAndGlyphs">Eta</text>
<line x1="73.70" y1="797.40" x2="515.80" y2="797.40" stroke="#989898" stroke-width="1.0"/>
<line x1="73.70" y1="779.78" x2="515.80" y2="779.78" stroke="#989898" stroke-width="1.0"/>
<line x1="73.70" y1="762.17" x2="515.80" y2="762.17" stroke="#989898" stroke-width="1.0"/>
<line x1="73.70" y1="744.55" x2="515.80" y2="744.55" stroke="#989898" stroke-width="1.0"/>
<line x1="73.70" y1="726.94" x2="515.80" y2="726.94" stroke="#989898" stroke-width="1.0"/>
<line x1="73.70" y1="709.32" x2="515.80" y2="709.32" stroke="#989898" stroke-width="1.0"/>
<line x1="73.70" y1="691.71" x2="515.80" y2="691.71" stroke="#989898" stroke-width="1.0"/>
<line x1="73.70" y1="788.59" x2="81.00" y2="788.59" stroke="#989898" stroke-width="1.0"/>
<line x1="73.70" y1="770.98" x2="81.00" y2="770.98" stroke="#989898" stroke-width="1.0"/>
<line x1="73.70" y1="753.36" x2="81.00" y2="753.36" stroke="#989898" stroke-width="1.0"/>
<line x1="73.70" y1="735.75" x2="81.00" y2="735.75" stroke="#989898" stroke-width="1.0"/>
<line x1="73.70" y1="718.13" x2="81.00" y2="718.13" stroke="#989898" stroke-width="1.0"/>
<line x1="73.70" y1="700.52" x2="81.00" y2="700.52" stroke="#989898" stroke-width="1.0"/>
<line x1="81.00" y1="691.71" x2="81.00" y2="800.60" stroke="#989898" stroke-width="1.0"/>
<line x1="116.96" y1="691.71" x2="116.96" y2="800.60" stroke="#989898" stroke-width="1.0"/>
<line x1="152.92" y1="691.71" x2="152.92" y2="800.60" stroke="#989898" stroke-width="1.0"/>
<line x1="188.88" y1="691.71" x2="188.88" y2="800.60" stroke="#989898" stroke-width="1.0"/>
<line x1="224.83" y1="691.71" x2="224.83" y2="800.60" stroke="#989898" stroke-width="1.0"/>
<line x1="260.79" y1="691.71" x2="260.79" y2="800.60" stroke="#989898" stroke-width="1.0"/>
<line x1="296.75" y1="691.71" x2="296.75" y2="800.60" stroke="#989898" stroke-width="1.0"/>
<line x1="332.71" y1="691.71" x2="332.71" y2="800.60" stroke="#989898" stroke-width="1.0"/>
<line x1="368.67" y1="691.71" x2="368.67" y2="800.60" stroke="#989898" stroke-width="1.0"/>
<line x1="404.63" y1="691.71" x2="404.63" y2="800.60" stroke="#989898" stroke-width="1.0"/>
<line x1="440.58" y1="691.71" x2="440.58" y2="800.60" stroke="#989898" stroke-width="1.0"/>
<line x1="476.54" y1="691.71" x2="476.54" y2="800.60" stroke="#989898" stroke-width="1.0"/>
<line x1="512.50" y1="691.71" x2="512.50" y2="800.60" stroke="#989898" stroke-width="1.0"/>
<g>
<text x="61.20" y="800.54" font-size="8.9" text-anchor="start" fill="#2c2c2c" textLength="5.30" lengthAdjust="spacingAndGlyphs">0</text>
<text x="60.00" y="782.92" font-size="8.9" text-anchor="start" fill="#2c2c2c" textLength="5.30" lengthAdjust="spacingAndGlyphs">5</text>
<text x="60.00" y="765.31" font-size="8.9" text-anchor="start" fill="#2c2c2c" textLength="10.80" lengthAdjust="spacingAndGlyphs">10</text>
<text x="60.00" y="747.69" font-size="8.9" text-anchor="start" fill="#2c2c2c" textLength="10.80" lengthAdjust="spacingAndGlyphs">15</text>
<text x="60.00" y="730.08" font-size="8.9" text-anchor="start" fill="#2c2c2c" textLength="10.80" lengthAdjust="spacingAndGlyphs">20</text>
<text x="60.00" y="712.46" font-size="8.9" text-anchor="start" fill="#2c2c2c" textLength="10.80" lengthAdjust="spacingAndGlyphs">25</text>
<text x="524.60" y="800.14" font-size="8.9" text-anchor="start" fill="#2c2c2c" textLength="5.30" lengthAdjust="spacingAndGlyphs">0</text>
<text x="524.60" y="782.52" font-size="8.9" text-anchor="start" fill="#2c2c2c" textLength="5.30" lengthAdjust="spacingAndGlyphs">1</text>
<text x="524.60" y="764.91" font-size="8.9" text-anchor="start" fill="#2c2c2c" textLength="5.30" lengthAdjust="spacingAndGlyphs">2</text>
<text x="524.60" y="747.29" font-size="8.9" text-anchor="start" fill="#2c2c2c" textLength="5.30" lengthAdjust="spacingAndGlyphs">3</text>
<text x="524.60" y="729.68" font-size="8.9" text-anchor="start" fill="#2c2c2c" textLength="5.30" lengthAdjust="spacingAndGlyphs">4</text>
<text x="524.60" y="712.06" font-size="8.9" text-anchor="start" fill="#2c2c2c" textLength="5.30" lengthAdjust="spacingAndGlyphs">5</text>
<text x="81.00" y="811.64" font-size="8.9" text-anchor="middle" fill="#2c2c2c" textLength="5.30" lengthAdjust="spacingAndGlyphs">0</text>
<text x="116.96" y="811.64" font-size="8.9" text-anchor="middle" fill="#2c2c2c" textLength="5.30" lengthAdjust="spacingAndGlyphs">5</text>
<text x="152.92" y="811.64" font-size="8.9" text-anchor="middle" fill="#2c2c2c" textLength="10.80" lengthAdjust="spacingAndGlyphs">10</text>
<text x="188.88" y="811.64" font-size="8.9" text-anchor="middle" fill="#2c2c2c" textLength="10.80" lengthAdjust="spacingAndGlyphs">15</text>
<text x="224.83" y="811.64" font-size="8.9" text-anchor="middle" fill="#2c2c2c" textLength="10.80" lengthAdjust="spacingAndGlyphs">20</text>
<text x="260.79" y="811.64" font-size="8.9" text-anchor="middle" fill="#2c2c2c" textLength="10.80" lengthAdjust="spacingAndGlyphs">25</text>
<text x="296.75" y="811.64" font-size="8.9" text-anchor="middle" fill="#2c2c2c" textLength="10.80" lengthAdjust="spacingAndGlyphs">30</text>
<text x="332.71" y="811.64" font-size="8.9" text-anchor="middle" fill="#2c2c2c" textLength="10.80" lengthAdjust="spacingAndGlyphs">35</text>
<text x="368.67" y="811.64" font-size="8.9" text-anchor="middle" fill="#2c2c2c" textLength="10.80" lengthAdjust="spacingAndGlyphs">40</text>
<text x="404.63" y="811.64" font-size="8.9" text-anchor="middle" fill="#2c2c2c" textLength="10.80" lengthAdjust="spacingAndGlyphs">45</text>
<text x="441.69" y="811.64" font-size="8.9" text-anchor="middle" fill="#2c2c2c" textLength="10.80" lengthAdjust="spacingAndGlyphs">50</text>
<text x="478.74" y="811.64" font-size="8.9" text-anchor="middle" fill="#2c2c2c" textLength="10.80" lengthAdjust="spacingAndGlyphs">55</text>
<text x="514.50" y="811.64" font-size="8.9" text-anchor="middle" fill="#2c2c2c" textLength="10.80" lengthAdjust="spacingAndGlyphs">60</text>
</g>
<text x="527.50" y="811.67" font-size="9.0" text-anchor="start" fill="#303030" textLength="35.50" lengthAdjust="spacingAndGlyphs">Q(m³/h)</text>
<text x="47.80" y="695.87" font-size="10.5" text-anchor="start" fill="#303030" textLength="23.40" lengthAdjust="spacingAndGlyphs">H(m)</text>
<text x="524.30" y="695.34" font-size="9.5" text-anchor="start" fill="#303030" textLength="37.00" lengthAdjust="spacingAndGlyphs">NPSH(m)</text>
<line x1="81.00" y1="826.30" x2="512.50" y2="826.30" stroke="#989898" stroke-width="1.0"/>
<line x1="81.00" y1="823.80" x2="81.00" y2="829.50" stroke="#989898" stroke-width="1.0"/>
<text x="81.00" y="838.74" font-size="8.9" text-anchor="middle" fill="#2c2c2c" textLength="5.30" lengthAdjust="spacingAndGlyphs">0</text>
<line x1="152.92" y1="823.80" x2="152.92" y2="829.50" stroke="#989898" stroke-width="1.0"/>
<text x="150.92" y="838.74" font-size="8.9" text-anchor="middle" fill="#303030" textLength="15.50" lengthAdjust="spacingAndGlyphs">2. 8</text>
<line x1="224.83" y1="823.80" x2="224.83" y2="829.50" stroke="#989898" stroke-width="1.0"/>
<text x="222.83" y="838.74" font-size="8.9" text-anchor="middle" fill="#303030" textLength="15.50" lengthAdjust="spacingAndGlyphs">5. 6</text>
<line x1="296.75" y1="823.80" x2="296.75" y2="829.50" stroke="#989898" stroke-width="1.0"/>
<text x="294.75" y="838.74" font-size="8.9" text-anchor="middle" fill="#303030" textLength="15.50" lengthAdjust="spacingAndGlyphs">8. 3</text>
<line x1="368.67" y1="823.80" x2="368.67" y2="829.50" stroke="#989898" stroke-width="1.0"/>
<text x="369.67" y="838.74" font-size="8.9" text-anchor="middle" fill="#303030" textLength="21.00" lengthAdjust="spacingAndGlyphs">11. 1</text>
<line x1="440.58" y1="823.80" x2="440.58" y2="829.50" stroke="#989898" stroke-width="1.0"/>
<text x="441.58" y="838.74" font-size="8.9" text-anchor="middle" fill="#303030" textLength="21.00" lengthAdjust="spacingAndGlyphs">13. 9</text>
<line x1="512.50" y1="823.80" x2="512.50" y2="829.50" stroke="#989898" stroke-width="1.0"/>
<text x="503.60" y="838.74" font-size="8.9" text-anchor="start" fill="#303030" textLength="20.60" lengthAdjust="spacingAndGlyphs">16. 7</text>
<text x="531.00" y="838.77" font-size="9.0" text-anchor="start" fill="#303030" textLength="24.60" lengthAdjust="spacingAndGlyphs">(L/S)</text>
<polyline points="77.00,710.50 260.79,713.40" fill="none" stroke="#7c7c7c" stroke-width="0.8" stroke-linejoin="round"/>
<polyline points="260.79,713.40 266.34,713.79 271.89,714.17 277.44,714.54 282.99,714.90 288.55,715.26 294.10,715.62 299.65,715.99 305.20,716.38 310.75,716.77 316.30,717.19 321.85,717.64 327.40,718.11 332.95,718.62 338.50,719.17 344.05,719.76 349.60,720.38 355.15,721.04 360.70,721.74 366.25,722.47 371.80,723.24 377.35,724.04 382.90,724.87 388.45,725.72 394.00,726.59 399.56,727.48 405.11,728.38 410.66,729.28 416.21,730.20 421.76,731.14 427.31,732.09 432.86,733.08 438.41,734.09 443.96,735.14 449.51,736.24 455.06,737.37 460.61,738.56 466.16,739.81 471.71,741.11 477.26,742.48" fill="none" stroke="#000" stroke-width="1.8" stroke-linejoin="round"/>
<polyline points="81.00,720.20 260.79,725.00" fill="none" stroke="#7c7c7c" stroke-width="0.8" stroke-linejoin="round"/>
<polyline points="260.79,725.00 266.34,725.08 271.89,725.22 277.44,725.42 282.99,725.67 288.55,725.97 294.10,726.32 299.65,726.71 305.20,727.14 310.75,727.62 316.30,728.12 321.85,728.66 327.40,729.23 332.95,729.83 338.50,730.45 344.05,731.09 349.60,731.76 355.15,732.46 360.70,733.19 366.25,733.96 371.80,734.76 377.35,735.59 382.90,736.46 388.45,737.38 394.00,738.34 399.56,739.34 405.11,740.39 410.66,741.49 416.21,742.64 421.76,743.84 427.31,745.10 432.86,746.40 438.41,747.75 443.96,749.16 449.51,750.62 455.06,752.13 460.61,753.70 466.16,755.32 471.71,757.00 477.26,758.73" fill="none" stroke="#000" stroke-width="1.8" stroke-linejoin="round"/>
<polyline points="81.00,765.80 137.00,765.60 216.00,762.00" fill="none" stroke="#7c7c7c" stroke-width="0.8" stroke-linejoin="round"/>
<polyline points="137.00,766.30 195.00,766.00" fill="none" stroke="#b5b5b5" stroke-width="0.8" stroke-linejoin="round"/>
<polyline points="260.79,765.60 266.34,765.59 271.89,765.60 277.44,765.61 282.99,765.62 288.55,765.62 294.10,765.61 299.65,765.58 305.20,765.54 310.75,765.46 316.30,765.36 321.85,765.21 327.40,765.02 332.95,764.79 338.50,764.50 344.05,764.15 349.60,763.72 355.15,763.22 360.70,762.62 366.25,761.93 371.80,761.14 377.35,760.23 382.90,759.20 388.45,758.06 394.00,756.79 399.56,755.39 405.11,753.86 410.66,752.20 416.21,750.42 421.76,748.53 427.31,746.53 432.86,744.44 438.41,742.27 443.96,740.03 449.51,737.73 455.06,735.38 460.61,732.99 466.16,730.57 471.71,728.13 477.26,725.68" fill="none" stroke="#000" stroke-width="1.8" stroke-linejoin="round"/>
<rect x="107.30" y="706.40" width="34.30" height="7.7" fill="#fff"/>
<text x="108.80" y="713.67" font-size="10.5" text-anchor="start" fill="#303030" textLength="30.80" lengthAdjust="spacingAndGlyphs">QH1/1</text>
<rect x="107.30" y="718.00" width="34.30" height="7.7" fill="#fff"/>
<text x="108.80" y="725.26" font-size="10.5" text-anchor="start" fill="#303030" textLength="30.80" lengthAdjust="spacingAndGlyphs">QH2/3</text>
<rect x="108.50" y="761.80" width="28.80" height="7.7" fill="#fff"/>
<text x="110.00" y="769.07" font-size="10.5" text-anchor="start" fill="#303030" textLength="25.30" lengthAdjust="spacingAndGlyphs">NPSH</text>
</svg>
</body>
</html>
